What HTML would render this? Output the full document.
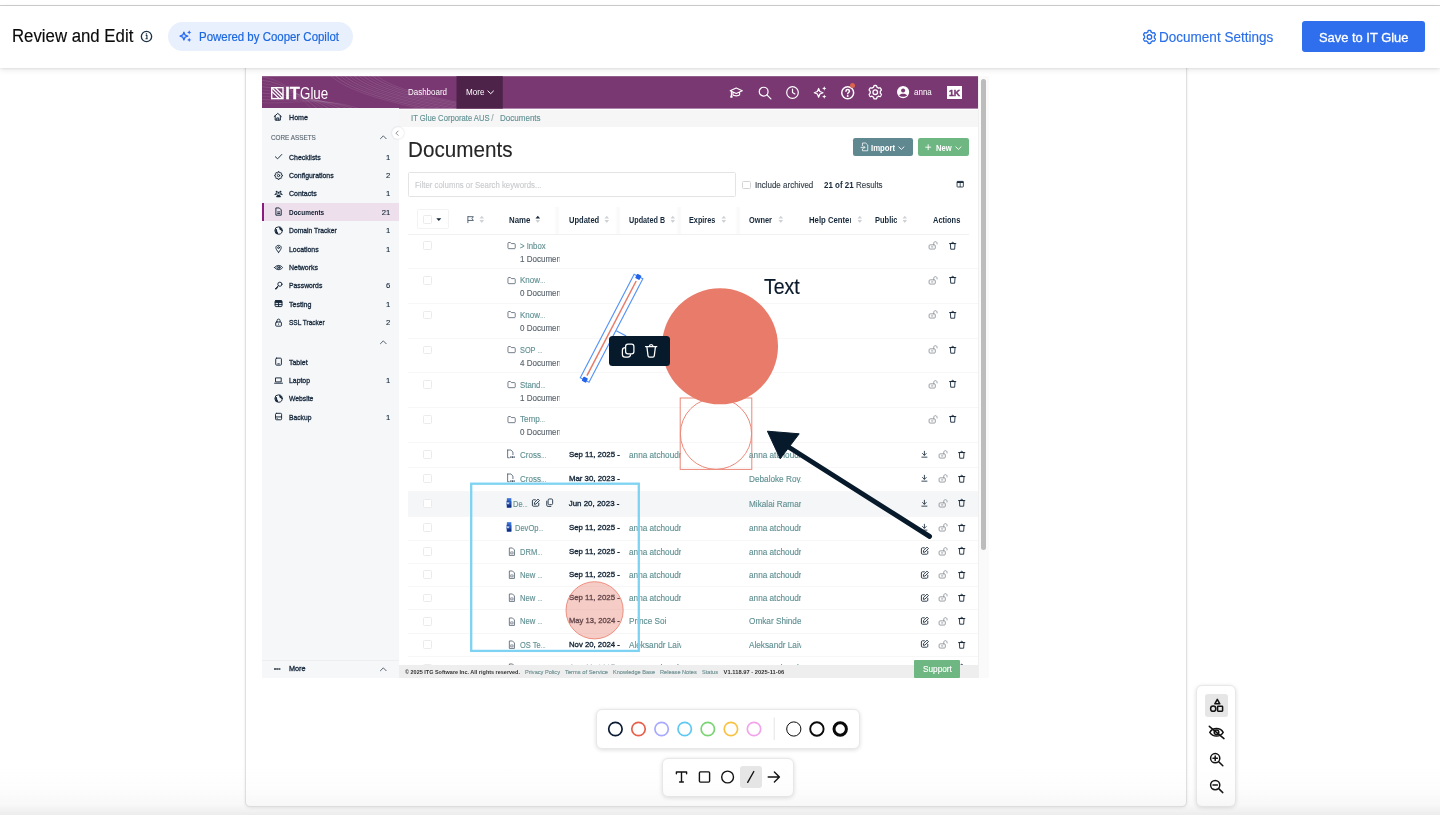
<!DOCTYPE html>
<html lang="en">
<head>
<meta charset="utf-8">
<title>Review and Edit</title>
<style>
*{box-sizing:border-box;margin:0;padding:0}
html,body{width:1440px;height:815px;overflow:hidden;background:#fff}
body{position:relative;font-family:"Liberation Sans",Arial,sans-serif;color:#111}
.abs{position:absolute}
.t{position:absolute;white-space:nowrap;line-height:1}
#hdrc,#shot,#annot{will-change:transform}
svg{position:absolute;overflow:visible}
#topline{left:0;top:5px;width:1440px;height:1px;background:#cdcdcd}
#hdr{left:0;top:6px;width:1440px;height:62px;background:#fff;box-shadow:0 1px 2px rgba(0,0,0,.07),0 2px 6px rgba(0,0,0,.09);z-index:20}
#hdrc{position:absolute;left:0;top:0;z-index:21}
#pill{left:168px;top:22px;width:185px;height:29px;border-radius:15px;background:#e9f0fd}
#savebtn{left:1302px;top:21px;width:123px;height:31px;border-radius:3px;background:#2f6fed}
#panel{left:245px;top:40px;width:942px;height:767px;background:#fff;border:1px solid #e0e0e0;border-radius:0 0 5px 5px;box-shadow:0 1px 3px rgba(0,0,0,.09)}
#botfade{left:0;top:765px;width:1440px;height:50px;background:linear-gradient(to bottom,rgba(200,200,200,0) 0%,rgba(200,200,200,.03) 45%,rgba(200,200,200,.12) 78%,rgba(195,195,195,.30) 100%);z-index:30;pointer-events:none}
#shot{left:262px;top:76px;width:727px;height:602px;overflow:hidden;background:#fff}
#shot .in{position:absolute;left:-262px;top:-76px;width:1440px;height:815px}
.cb{position:absolute;width:8.5px;height:8.5px;border:1px solid #ebebeb;border-radius:1.5px;background:#fff}
.sep{position:absolute;left:408px;width:560px;height:1px;background:#f7f7f7}
.bar{position:absolute;background:#fff;border:1px solid #e8e8e8;border-radius:6px;box-shadow:0 1px 4px rgba(0,0,0,.14)}
</style>
</head>
<body>
<div class="abs" id="panel"></div>
<div class="abs" id="topline"></div>
<div class="abs" id="hdr"></div>
<div id="hdrc">
<div class="t" style="left:11.60px;top:28.08px;font-size:17.6px;color:#0b0b0b;-webkit-text-stroke:0.15px #0b0b0b;transform:scaleX(0.9541);transform-origin:0 50%;">Review and Edit</div>
<svg style="left:140.3px;top:29.55px" width="13" height="13" viewBox="0 0 13 13"><circle cx="6.5" cy="6.5" r="5.15" fill="none" stroke="#1e3246" stroke-width="1.35"/><path d="M5.700 5.500 H6.900 V8.600 M5.500 8.800 H7.700" stroke="#1e3246" stroke-width="1.100" fill="none"/><rect x="5.800" y="3.300" width="1.300" height="1.300" fill="#1e3246"/></svg>
<div class="abs" id="pill"></div>
<svg style="left:178px;top:29px" width="14" height="14" viewBox="0 0 14 14"><path d="M5.900 3.200 L7 5.950 L9.750 7.050 L7 8.150 L5.900 10.900 L4.800 8.150 L2.050 7.050 L4.800 5.950 Z" fill="none" stroke="#2a6bef" stroke-width="1.350" stroke-linejoin="round"/><path d="M11.200 1.200 L11.900 2.700 L13.400 3.400 L11.900 4.100 L11.200 5.600 L10.500 4.100 L9 3.400 L10.500 2.700 Z" fill="#2a6bef"/><path d="M11.200 8.700 L11.900 10.200 L13.400 10.900 L11.900 11.600 L11.200 13.100 L10.500 11.600 L9 10.900 L10.500 10.200 Z" fill="#2a6bef"/></svg>
<div class="t" style="left:199.00px;top:30.62px;font-size:12.2px;color:#1c68e0;-webkit-text-stroke:0.2px #1c68e0;transform:scaleX(0.9393);transform-origin:0 50%;">Powered by Cooper Copilot</div>
<svg style="left:0;top:0" width="1440" height="60" viewBox="0 0 1440 60"><path d="M1149.45 30.42 L1149.72 30.43 L1150.00 30.44 L1150.27 30.47 L1150.54 30.52 L1150.76 30.80 L1150.90 31.32 L1151.00 31.85 L1151.13 32.14 L1151.33 32.22 L1151.53 32.31 L1151.72 32.41 L1151.91 32.52 L1152.09 32.63 L1152.27 32.76 L1152.45 32.89 L1152.61 33.03 L1152.92 33.01 L1153.41 32.83 L1153.92 32.69 L1154.26 32.75 L1154.43 32.97 L1154.59 33.20 L1154.75 33.44 L1154.89 33.68 L1155.02 33.93 L1155.14 34.19 L1155.25 34.45 L1155.35 34.72 L1155.23 35.06 L1154.86 35.44 L1154.47 35.79 L1154.30 36.06 L1154.33 36.28 L1154.35 36.50 L1154.37 36.73 L1154.37 36.95 L1154.37 37.17 L1154.35 37.40 L1154.33 37.62 L1154.30 37.84 L1154.47 38.11 L1154.86 38.46 L1155.23 38.84 L1155.35 39.18 L1155.25 39.45 L1155.14 39.71 L1155.02 39.97 L1154.89 40.22 L1154.75 40.46 L1154.59 40.70 L1154.43 40.93 L1154.26 41.15 L1153.92 41.21 L1153.41 41.07 L1152.92 40.89 L1152.61 40.87 L1152.45 41.01 L1152.27 41.14 L1152.09 41.27 L1151.91 41.38 L1151.72 41.49 L1151.53 41.59 L1151.33 41.68 L1151.13 41.76 L1151.00 42.05 L1150.90 42.58 L1150.76 43.10 L1150.54 43.38 L1150.27 43.43 L1150.00 43.46 L1149.72 43.47 L1149.45 43.48 L1149.18 43.47 L1148.90 43.46 L1148.63 43.43 L1148.36 43.38 L1148.14 43.10 L1148.00 42.58 L1147.90 42.05 L1147.77 41.76 L1147.57 41.68 L1147.37 41.59 L1147.18 41.49 L1146.99 41.38 L1146.81 41.27 L1146.63 41.14 L1146.45 41.01 L1146.29 40.87 L1145.98 40.89 L1145.49 41.07 L1144.98 41.21 L1144.64 41.15 L1144.47 40.93 L1144.31 40.70 L1144.15 40.46 L1144.01 40.22 L1143.88 39.97 L1143.76 39.71 L1143.65 39.45 L1143.55 39.18 L1143.67 38.84 L1144.04 38.46 L1144.43 38.11 L1144.60 37.84 L1144.57 37.62 L1144.55 37.40 L1144.53 37.17 L1144.53 36.95 L1144.53 36.73 L1144.55 36.50 L1144.57 36.28 L1144.60 36.06 L1144.43 35.79 L1144.04 35.44 L1143.67 35.06 L1143.55 34.72 L1143.65 34.45 L1143.76 34.19 L1143.88 33.93 L1144.01 33.68 L1144.15 33.44 L1144.31 33.20 L1144.47 32.97 L1144.64 32.75 L1144.98 32.69 L1145.49 32.83 L1145.98 33.01 L1146.29 33.03 L1146.45 32.89 L1146.63 32.76 L1146.81 32.63 L1146.99 32.52 L1147.18 32.41 L1147.37 32.31 L1147.57 32.22 L1147.77 32.14 L1147.90 31.85 L1148.00 31.32 L1148.14 30.80 L1148.36 30.52 L1148.63 30.47 L1148.90 30.44 L1149.18 30.43Z" fill="none" stroke="#2a6fe8" stroke-width="1.35" stroke-linejoin="round"/><circle cx="1149.45" cy="36.95" r="2.250" fill="none" stroke="#2a6fe8" stroke-width="1.350"/></svg>
<div class="t" style="left:1159.40px;top:30.94px;font-size:13.8px;color:#2a6fe8;-webkit-text-stroke:0.15px #2a6fe8;transform:scaleX(0.9805);transform-origin:0 50%;">Document Settings</div>
<div class="abs" id="savebtn"></div>
<div class="t" style="left:1318.60px;top:30.89px;font-size:13.7px;color:#fff;-webkit-text-stroke:0.3px #fff;transform:scaleX(0.9424);transform-origin:0 50%;">Save to IT Glue</div>
</div>
<div class="abs" id="shot"><div class="in">
<svg style="left:0;top:0" width="1440" height="120" viewBox="0 0 1440 120"><rect x="262" y="76.200" width="716" height="32.400" fill="#793872"/></svg>
<svg style="left:0;top:0" width="1440" height="815"><defs><clipPath id="cpw"><rect x="262" y="76" width="194.500" height="32"/></clipPath></defs><g clip-path="url(#cpw)"><path d="M330.0 75 C 346.0 90, 378.0 99, 422.0 109" fill="none" stroke="#fff" stroke-opacity="0.12" stroke-width="0.8"/><path d="M334.6 75 C 350.6 90, 384.1 99, 429.1 109" fill="none" stroke="#fff" stroke-opacity="0.17" stroke-width="0.8"/><path d="M339.2 75 C 355.2 90, 390.2 99, 436.2 109" fill="none" stroke="#fff" stroke-opacity="0.12" stroke-width="0.8"/><path d="M343.8 75 C 359.8 90, 396.3 99, 443.3 109" fill="none" stroke="#fff" stroke-opacity="0.17" stroke-width="0.8"/><path d="M348.4 75 C 364.4 90, 402.4 99, 450.4 109" fill="none" stroke="#fff" stroke-opacity="0.12" stroke-width="0.8"/><path d="M353.0 75 C 369.0 90, 408.5 99, 457.5 109" fill="none" stroke="#fff" stroke-opacity="0.17" stroke-width="0.8"/><path d="M357.6 75 C 373.6 90, 414.6 99, 464.6 109" fill="none" stroke="#fff" stroke-opacity="0.12" stroke-width="0.8"/><path d="M362.2 75 C 378.2 90, 420.7 99, 471.7 109" fill="none" stroke="#fff" stroke-opacity="0.17" stroke-width="0.8"/><path d="M366.8 75 C 382.8 90, 426.8 99, 478.8 109" fill="none" stroke="#fff" stroke-opacity="0.12" stroke-width="0.8"/><path d="M371.4 75 C 387.4 90, 432.9 99, 485.9 109" fill="none" stroke="#fff" stroke-opacity="0.17" stroke-width="0.8"/><path d="M376.0 75 C 392.0 90, 439.0 99, 493.0 109" fill="none" stroke="#fff" stroke-opacity="0.12" stroke-width="0.8"/><path d="M261 77.0 C 284 79.0, 298.0 96, 312.0 109" fill="none" stroke="#fff" stroke-opacity="0.10" stroke-width="0.8"/><path d="M261 80.2 C 284 82.2, 301.5 96, 318.0 109" fill="none" stroke="#fff" stroke-opacity="0.15" stroke-width="0.8"/><path d="M261 83.4 C 284 85.4, 305.0 96, 324.0 109" fill="none" stroke="#fff" stroke-opacity="0.10" stroke-width="0.8"/><path d="M261 86.6 C 284 88.6, 308.5 96, 330.0 109" fill="none" stroke="#fff" stroke-opacity="0.15" stroke-width="0.8"/><path d="M261 89.8 C 284 91.8, 312.0 96, 336.0 109" fill="none" stroke="#fff" stroke-opacity="0.10" stroke-width="0.8"/><path d="M261 93.0 C 284 95.0, 315.5 96, 342.0 109" fill="none" stroke="#fff" stroke-opacity="0.15" stroke-width="0.8"/><path d="M261 96.2 C 284 98.2, 319.0 96, 348.0 109" fill="none" stroke="#fff" stroke-opacity="0.10" stroke-width="0.8"/><path d="M261 99.4 C 284 101.4, 322.5 96, 354.0 109" fill="none" stroke="#fff" stroke-opacity="0.15" stroke-width="0.8"/><path d="M261 102.6 C 284 104.6, 326.0 96, 360.0 109" fill="none" stroke="#fff" stroke-opacity="0.10" stroke-width="0.8"/></g></svg>
<svg style="left:0;top:0" width="1440" height="120" viewBox="0 0 1440 120"><rect x="456.500" y="76.200" width="46.300" height="32.400" fill="#4e2349"/></svg>
<svg style="left:270.5px;top:86.5px" width="13" height="12.5" viewBox="0 0 13 12.5"><rect x="0.7" y="0.7" width="11.3" height="10.9" fill="none" stroke="#fff" stroke-width="1.4"/><path d="M1 1 L11.6 11.4 M4.6 1 L12 8.2 M1 4.6 L8 11.4" stroke="#fff" stroke-width="1.3" fill="none"/></svg>
<div class="t" style="left:285.20px;top:84.86px;font-size:16.4px;color:#fff;font-weight:700;letter-spacing:0.011px;-webkit-text-stroke:0.35px #fff;">IT</div>
<div class="t" style="left:300.20px;top:84.86px;font-size:16.4px;color:#fff;transform:scaleX(0.8147);transform-origin:0 50%;">Glue</div>
<div class="t" style="left:408.30px;top:88.33px;font-size:8.51px;color:#fff;transform:scaleX(0.9376);transform-origin:0 50%;">Dashboard</div>
<div class="t" style="left:465.60px;top:88.33px;font-size:8.51px;color:#fff;transform:scaleX(0.9497);transform-origin:0 50%;">More</div>
<svg style="left:487.3px;top:90.2px" width="7.4" height="4.6" viewBox="0 0 7.4 4.6"><path d="M0.6 0.7 L3.7 3.7 L6.8 0.7" fill="none" stroke="#fff" stroke-width="1"/></svg>
<svg style="left:729.05px;top:85.05px" width="14.50" height="14.50" viewBox="0 0 24 24" ><path d="M2 9.500 L12 5 L22 9.500 L12 14 Z M6.500 11.800 V16.500 C8 18.500 16 18.500 17.500 16.500 V11.800 M4 10.600 V17 M4 17 l-1.200 3 h2.400z" stroke="#fff" fill="none" stroke-width="1.9" stroke-linecap="round" stroke-linejoin="round"/></svg>
<svg style="left:757.45px;top:84.85px" width="15.50" height="15.50" viewBox="0 0 24 24" ><circle cx="10.300" cy="10.300" r="6.800" stroke="#fff" fill="none" stroke-width="1.9" stroke-linecap="round" stroke-linejoin="round"/><path d="M15.300 15.300 L21.500 21.500" stroke="#fff" fill="none" stroke-width="1.9" stroke-linecap="round" stroke-linejoin="round"/></svg>
<svg style="left:785.30px;top:84.90px" width="15.00" height="15.00" viewBox="0 0 24 24" ><circle cx="12" cy="12" r="9.300" stroke="#fff" fill="none" stroke-width="1.9" stroke-linecap="round" stroke-linejoin="round"/><path d="M12 6.500 V12 L15.800 14.300" stroke="#fff" fill="none" stroke-width="1.9" stroke-linecap="round" stroke-linejoin="round"/></svg>
<svg style="left:813.20px;top:84.80px" width="15.00" height="15.00" viewBox="0 0 24 24" ><path d="M9 5.500 L11 10.500 L16 12.500 L11 14.500 L9 19.500 L7 14.500 L2 12.500 L7 10.500 Z" stroke="#fff" fill="none" stroke-width="1.9" stroke-linecap="round" stroke-linejoin="round"/><path d="M18 2 L19 4.500 L21.500 5.500 L19 6.500 L18 9 L17 6.500 L14.500 5.500 L17 4.500 Z M18 15 L19 17.500 L21.500 18.500 L19 19.500 L18 22 L17 19.500 L14.500 18.500 L17 17.500 Z" fill="#fff"/></svg>
<svg style="left:840.10px;top:84.70px" width="15.40" height="15.40" viewBox="0 0 24 24" ><circle cx="12" cy="12" r="9.300" stroke="#fff" fill="none" stroke-width="2.35" stroke-linecap="round" stroke-linejoin="round"/><path d="M9.300 9.600 C9.300 6.300 14.700 6.300 14.700 9.600 C14.700 11.600 12 11.800 12 13.800" stroke="#fff" fill="none" stroke-width="2.35" stroke-linecap="round" stroke-linejoin="round"/><circle cx="12" cy="17.200" r="1.500" fill="#fff"/></svg>
<div class="abs" style="left:850px;top:83px;width:5px;height:5px;border-radius:50%;background:#d9644f"></div>
<svg style="left:0;top:0" width="1440" height="120" viewBox="0 0 1440 120"><path d="M875.25 85.48 L875.53 85.49 L875.82 85.51 L876.10 85.54 L876.38 85.59 L876.61 85.88 L876.75 86.43 L876.85 86.98 L876.99 87.28 L877.19 87.37 L877.40 87.46 L877.60 87.56 L877.79 87.67 L877.98 87.79 L878.16 87.91 L878.34 88.05 L878.52 88.19 L878.84 88.16 L879.35 87.98 L879.88 87.83 L880.24 87.88 L880.42 88.11 L880.59 88.35 L880.75 88.59 L880.90 88.84 L881.03 89.10 L881.16 89.36 L881.27 89.63 L881.38 89.90 L881.24 90.25 L880.85 90.65 L880.44 91.02 L880.25 91.29 L880.29 91.52 L880.31 91.74 L880.33 91.97 L880.33 92.20 L880.33 92.43 L880.31 92.66 L880.29 92.88 L880.25 93.11 L880.44 93.38 L880.85 93.75 L881.24 94.15 L881.38 94.50 L881.27 94.77 L881.16 95.04 L881.03 95.30 L880.90 95.56 L880.75 95.81 L880.59 96.05 L880.42 96.29 L880.24 96.52 L879.88 96.57 L879.35 96.42 L878.84 96.24 L878.52 96.21 L878.34 96.35 L878.16 96.49 L877.98 96.61 L877.79 96.73 L877.60 96.84 L877.40 96.94 L877.19 97.03 L876.99 97.12 L876.85 97.42 L876.75 97.97 L876.61 98.52 L876.38 98.81 L876.10 98.86 L875.82 98.89 L875.53 98.91 L875.25 98.92 L874.97 98.91 L874.68 98.89 L874.40 98.86 L874.12 98.81 L873.89 98.52 L873.75 97.97 L873.65 97.42 L873.51 97.12 L873.31 97.03 L873.10 96.94 L872.90 96.84 L872.71 96.73 L872.52 96.61 L872.34 96.49 L872.16 96.35 L871.98 96.21 L871.66 96.24 L871.15 96.42 L870.62 96.57 L870.26 96.52 L870.08 96.29 L869.91 96.05 L869.75 95.81 L869.60 95.56 L869.47 95.30 L869.34 95.04 L869.23 94.77 L869.12 94.50 L869.26 94.15 L869.65 93.75 L870.06 93.38 L870.25 93.11 L870.21 92.88 L870.19 92.66 L870.17 92.43 L870.17 92.20 L870.17 91.97 L870.19 91.74 L870.21 91.52 L870.25 91.29 L870.06 91.02 L869.65 90.65 L869.26 90.25 L869.12 89.90 L869.23 89.63 L869.34 89.36 L869.47 89.10 L869.60 88.84 L869.75 88.59 L869.91 88.35 L870.08 88.11 L870.26 87.88 L870.62 87.83 L871.15 87.98 L871.66 88.16 L871.98 88.19 L872.16 88.05 L872.34 87.91 L872.52 87.79 L872.71 87.67 L872.90 87.56 L873.10 87.46 L873.31 87.37 L873.51 87.28 L873.65 86.98 L873.75 86.43 L873.89 85.88 L874.12 85.59 L874.40 85.54 L874.68 85.51 L874.97 85.49Z" fill="none" stroke="#fff" stroke-width="1.300" stroke-linejoin="round"/><circle cx="875.250" cy="92.200" r="2.300" fill="none" stroke="#fff" stroke-width="1.300"/></svg>
<svg style="left:896.80px;top:86.20px" width="12.20" height="12.20" viewBox="0 0 24 24" ><circle cx="12" cy="12" r="12" fill="#fff"/><circle cx="12" cy="8.800" r="4" fill="#7a3872"/><path d="M4.200 18.600 C6 14 18 14 19.800 18.600 C16 22 8 22 4.200 18.600Z" fill="#7a3872"/></svg>
<div class="t" style="left:914.00px;top:88.99px;font-size:8.19px;color:#fff;transform:scaleX(0.9787);transform-origin:0 50%;">anna</div>
<div class="abs" style="left:947.3px;top:85.7px;width:14.6px;height:13.4px;background:#fff"></div>
<div class="t" style="left:949.20px;top:87.67px;font-size:9.45px;color:#7a3872;font-weight:700;-webkit-text-stroke:0.4px #7a3872;transform:scaleX(0.9273);transform-origin:0 50%;">1K</div>
<div class="abs" style="left:262px;top:108px;width:137.3px;height:570px;background:#f5f7f9"></div>
<div class="abs" style="left:262px;top:203.3px;width:137.3px;height:18.2px;background:#ede0ec"></div>
<div class="abs" style="left:262px;top:203.3px;width:2.2px;height:18.2px;background:#8a1c80"></div>
<svg style="left:273.43px;top:112.03px" width="9.54" height="9.54" viewBox="0 0 24 24" ><path d="M3 11.500 L12 3.500 L21 11.500 M5.500 10 V20.500 H18.500 V10 M9.500 20.500 V15 H14.500 V20.500" stroke="#16283a" fill="none" stroke-width="2.5" stroke-linecap="round" stroke-linejoin="round"/></svg>
<div class="t" style="left:289.20px;top:113.54px;font-size:7.67px;color:#14263a;-webkit-text-stroke:0.32px #14263a;transform:scaleX(0.9297);transform-origin:0 50%;">Home</div>
<div class="t" style="left:270.80px;top:134.24px;font-size:7.46px;color:#5d6873;-webkit-text-stroke:0.15px #5d6873;transform:scaleX(0.8516);transform-origin:0 50%;">CORE ASSETS</div>
<svg style="left:378.90px;top:133.20px" width="8.60" height="8.60" viewBox="0 0 24 24" ><path d="M4 16 L12 8 L20 16" stroke="#46525e" fill="none" stroke-width="2.5" stroke-linecap="round" stroke-linejoin="round"/></svg>
<svg style="left:273.64px;top:152.24px" width="9.12" height="9.12" viewBox="0 0 24 24" ><path d="M3.500 12.500 L9.500 18 L20.500 6.500" stroke="#16283a" fill="none" stroke-width="2.5" stroke-linecap="round" stroke-linejoin="round"/></svg>
<div class="t" style="left:289.20px;top:153.54px;font-size:7.67px;color:#14263a;-webkit-text-stroke:0.32px #14263a;transform:scaleX(0.9114);transform-origin:0 50%;">Checklists</div>
<div class="t" style="left:385.93px;top:153.54px;font-size:7.67px;color:#14263a;-webkit-text-stroke:0.12px #14263a;">1</div>
<svg style="left:273.64px;top:170.64px" width="9.12" height="9.12" viewBox="0 0 24 24" ><path d="M10.24 3.99 L10.59 1.80 L13.41 1.80 L13.76 3.99 L16.42 5.09 L18.22 3.79 L20.21 5.78 L18.91 7.58 L20.01 10.24 L22.20 10.59 L22.20 13.41 L20.01 13.76 L18.91 16.42 L20.21 18.22 L18.22 20.21 L16.42 18.91 L13.76 20.01 L13.41 22.20 L10.59 22.20 L10.24 20.01 L7.58 18.91 L5.78 20.21 L3.79 18.22 L5.09 16.42 L3.99 13.76 L1.80 13.41 L1.80 10.59 L3.99 10.24 L5.09 7.58 L3.79 5.78 L5.78 3.79 L7.58 5.09Z" stroke="#16283a" fill="none" stroke-width="2.5" stroke-linecap="round" stroke-linejoin="round"/><circle cx="12" cy="12" r="3" stroke="#16283a" fill="none" stroke-width="2.5" stroke-linecap="round" stroke-linejoin="round"/></svg>
<div class="t" style="left:289.20px;top:171.94px;font-size:7.67px;color:#14263a;-webkit-text-stroke:0.32px #14263a;transform:scaleX(0.9033);transform-origin:0 50%;">Configurations</div>
<div class="t" style="left:385.93px;top:171.94px;font-size:7.67px;color:#14263a;-webkit-text-stroke:0.12px #14263a;">2</div>
<svg style="left:273.64px;top:189.04px" width="9.12" height="9.12" viewBox="0 0 24 24" ><circle cx="7" cy="7" r="2.600" fill="#16283a"/><circle cx="17" cy="7" r="2.600" fill="#16283a"/><circle cx="12" cy="10" r="2.800" fill="#16283a"/><path d="M2 16 C2 11 9 11 9.500 14 M22 16 C22 11 15 11 14.500 14 M6.500 21 C6.500 14.500 17.500 14.500 17.500 21 Z" fill="#16283a" stroke="#16283a" stroke-width="1.500"/></svg>
<div class="t" style="left:289.20px;top:190.34px;font-size:7.67px;color:#14263a;-webkit-text-stroke:0.32px #14263a;transform:scaleX(0.9166);transform-origin:0 50%;">Contacts</div>
<div class="t" style="left:385.93px;top:190.34px;font-size:7.67px;color:#14263a;-webkit-text-stroke:0.12px #14263a;">1</div>
<svg style="left:273.64px;top:207.44px" width="9.12" height="9.12" viewBox="0 0 24 24" ><path d="M6 2.500 H14 L19 7.500 V21.500 H6 Z M9.500 13 H15 M9.500 17 H15" stroke="#16283a" fill="none" stroke-width="2.5" stroke-linecap="round" stroke-linejoin="round"/></svg>
<div class="t" style="left:289.20px;top:208.74px;font-size:7.67px;color:#0c1b2c;font-weight:700;transform:scaleX(0.8441);transform-origin:0 50%;">Documents</div>
<div class="t" style="left:381.67px;top:208.74px;font-size:7.67px;color:#14263a;-webkit-text-stroke:0.12px #14263a;">21</div>
<svg style="left:273.64px;top:225.84px" width="9.12" height="9.12" viewBox="0 0 24 24" ><circle cx="12" cy="12" r="9.800" stroke="#16283a" fill="none" stroke-width="2.5" stroke-linecap="round" stroke-linejoin="round"/><path d="M4 7 C8 7.500 9 10 8 12.500 C7.500 15 10.500 15 10.500 18 L11.500 21.500 C5 21 1.500 14 4 7 Z M12.500 2.500 C12 5 15 5.500 14.500 8 C14 10.500 17 10 18.500 12 C20 13.500 21 12 21.500 11 C21 6 17 2.500 12.500 2.500 Z" fill="#16283a"/></svg>
<div class="t" style="left:289.20px;top:227.14px;font-size:7.67px;color:#14263a;-webkit-text-stroke:0.32px #14263a;transform:scaleX(0.8826);transform-origin:0 50%;">Domain Tracker</div>
<div class="t" style="left:385.93px;top:227.14px;font-size:7.67px;color:#14263a;-webkit-text-stroke:0.12px #14263a;">1</div>
<svg style="left:273.64px;top:244.24px" width="9.12" height="9.12" viewBox="0 0 24 24" ><path d="M12 22 C7 16 5 13 5 9.500 C5 1.500 19 1.500 19 9.500 C19 13 17 16 12 22 Z" stroke="#16283a" fill="none" stroke-width="2.5" stroke-linecap="round" stroke-linejoin="round"/><circle cx="12" cy="9.500" r="2.500" stroke="#16283a" fill="none" stroke-width="2.5" stroke-linecap="round" stroke-linejoin="round"/></svg>
<div class="t" style="left:289.20px;top:245.54px;font-size:7.67px;color:#14263a;-webkit-text-stroke:0.32px #14263a;transform:scaleX(0.9030);transform-origin:0 50%;">Locations</div>
<div class="t" style="left:385.93px;top:245.54px;font-size:7.67px;color:#14263a;-webkit-text-stroke:0.12px #14263a;">1</div>
<svg style="left:273.64px;top:262.64px" width="9.12" height="9.12" viewBox="0 0 24 24" ><path d="M1.500 12 C6 4.500 18 4.500 22.500 12 C18 19.500 6 19.500 1.500 12 Z" stroke="#16283a" fill="none" stroke-width="2.5" stroke-linecap="round" stroke-linejoin="round"/><circle cx="12" cy="12" r="4" stroke="#16283a" fill="none" stroke-width="2.5" stroke-linecap="round" stroke-linejoin="round"/><circle cx="12" cy="12" r="1.600" fill="#16283a"/></svg>
<div class="t" style="left:289.20px;top:263.94px;font-size:7.67px;color:#14263a;-webkit-text-stroke:0.32px #14263a;transform:scaleX(0.9085);transform-origin:0 50%;">Networks</div>
<svg style="left:273.64px;top:281.04px" width="9.12" height="9.12" viewBox="0 0 24 24" ><circle cx="15.500" cy="8.500" r="5.500" stroke="#16283a" fill="none" stroke-width="2.5" stroke-linecap="round" stroke-linejoin="round"/><path d="M11.500 12.500 L3 21 H6.500 V18 H9.500 V15.200" stroke="#16283a" fill="none" stroke-width="2.5" stroke-linecap="round" stroke-linejoin="round"/></svg>
<div class="t" style="left:289.20px;top:282.34px;font-size:7.67px;color:#14263a;-webkit-text-stroke:0.32px #14263a;transform:scaleX(0.8891);transform-origin:0 50%;">Passwords</div>
<div class="t" style="left:385.93px;top:282.34px;font-size:7.67px;color:#14263a;-webkit-text-stroke:0.12px #14263a;">6</div>
<svg style="left:273.64px;top:299.44px" width="9.12" height="9.12" viewBox="0 0 24 24" ><rect x="3" y="4" width="18" height="16" rx="2" stroke="#16283a" fill="none" stroke-width="2.5" stroke-linecap="round" stroke-linejoin="round"/><path d="M3 9.500 H21 M3 14.700 H21 M12 9.500 V20" stroke="#16283a" fill="none" stroke-width="2.5" stroke-linecap="round" stroke-linejoin="round"/><rect x="3" y="4" width="18" height="5" fill="#16283a"/></svg>
<div class="t" style="left:289.20px;top:300.74px;font-size:7.67px;color:#14263a;-webkit-text-stroke:0.32px #14263a;transform:scaleX(0.9272);transform-origin:0 50%;">Testing</div>
<div class="t" style="left:385.93px;top:300.74px;font-size:7.67px;color:#14263a;-webkit-text-stroke:0.12px #14263a;">1</div>
<svg style="left:273.64px;top:317.84px" width="9.12" height="9.12" viewBox="0 0 24 24" ><rect x="4.500" y="10.500" width="15" height="11" rx="2" stroke="#16283a" fill="none" stroke-width="2.5" stroke-linecap="round" stroke-linejoin="round"/><path d="M8 10.500 V7 C8 1.500 16 1.500 16 7 V10.500" stroke="#16283a" fill="none" stroke-width="2.5" stroke-linecap="round" stroke-linejoin="round"/><circle cx="12" cy="16" r="1.500" fill="#16283a"/></svg>
<div class="t" style="left:289.20px;top:319.14px;font-size:7.67px;color:#14263a;-webkit-text-stroke:0.32px #14263a;transform:scaleX(0.8508);transform-origin:0 50%;">SSL Tracker</div>
<div class="t" style="left:385.93px;top:319.14px;font-size:7.67px;color:#14263a;-webkit-text-stroke:0.12px #14263a;">2</div>
<svg style="left:378.90px;top:338.10px" width="8.60" height="8.60" viewBox="0 0 24 24" ><path d="M4 16 L12 8 L20 16" stroke="#46525e" fill="none" stroke-width="2.5" stroke-linecap="round" stroke-linejoin="round"/></svg>
<svg style="left:273.64px;top:357.24px" width="9.12" height="9.12" viewBox="0 0 24 24" ><rect x="4.500" y="3" width="15" height="18.500" rx="2.500" stroke="#16283a" fill="none" stroke-width="2.5" stroke-linecap="round" stroke-linejoin="round" stroke-width="2.800"/><path d="M10 18 H14" stroke="#16283a" fill="none" stroke-width="2.5" stroke-linecap="round" stroke-linejoin="round"/></svg>
<div class="t" style="left:289.20px;top:358.54px;font-size:7.67px;color:#14263a;-webkit-text-stroke:0.32px #14263a;transform:scaleX(0.9101);transform-origin:0 50%;">Tablet</div>
<svg style="left:273.64px;top:375.64px" width="9.12" height="9.12" viewBox="0 0 24 24" ><path d="M5 5 H19 V15.500 H5 Z M1.500 19 H22.500" stroke="#16283a" fill="none" stroke-width="2.5" stroke-linecap="round" stroke-linejoin="round"/></svg>
<div class="t" style="left:289.20px;top:376.94px;font-size:7.67px;color:#14263a;-webkit-text-stroke:0.32px #14263a;transform:scaleX(0.8966);transform-origin:0 50%;">Laptop</div>
<div class="t" style="left:385.93px;top:376.94px;font-size:7.67px;color:#14263a;-webkit-text-stroke:0.12px #14263a;">1</div>
<svg style="left:273.64px;top:394.04px" width="9.12" height="9.12" viewBox="0 0 24 24" ><circle cx="12" cy="12" r="9.800" stroke="#16283a" fill="none" stroke-width="2.5" stroke-linecap="round" stroke-linejoin="round"/><path d="M4 7 C8 7.500 9 10 8 12.500 C7.500 15 10.500 15 10.500 18 L11.500 21.500 C5 21 1.500 14 4 7 Z M12.500 2.500 C12 5 15 5.500 14.500 8 C14 10.500 17 10 18.500 12 C20 13.500 21 12 21.500 11 C21 6 17 2.500 12.500 2.500 Z" fill="#16283a"/></svg>
<div class="t" style="left:289.20px;top:395.34px;font-size:7.67px;color:#14263a;-webkit-text-stroke:0.32px #14263a;transform:scaleX(0.8826);transform-origin:0 50%;">Website</div>
<svg style="left:273.64px;top:412.44px" width="9.12" height="9.12" viewBox="0 0 24 24" ><rect x="4" y="3.500" width="16" height="17" rx="2.500" stroke="#16283a" fill="none" stroke-width="2.5" stroke-linecap="round" stroke-linejoin="round"/><path d="M4 13 H20 M8 17 H8.500" stroke="#16283a" fill="none" stroke-width="2.5" stroke-linecap="round" stroke-linejoin="round"/></svg>
<div class="t" style="left:289.20px;top:413.74px;font-size:7.67px;color:#14263a;-webkit-text-stroke:0.32px #14263a;transform:scaleX(0.8768);transform-origin:0 50%;">Backup</div>
<div class="t" style="left:385.93px;top:413.74px;font-size:7.67px;color:#14263a;-webkit-text-stroke:0.12px #14263a;">1</div>
<div class="abs" style="left:262px;top:659.5px;width:137.3px;height:1px;background:#eceef0"></div>
<div class="abs" style="left:274.3px;top:668.4px;width:1.4px;height:1.4px;background:#5d6873;box-shadow:2.2px 0 0 #5d6873,4.4px 0 0 #5d6873"></div>
<div class="t" style="left:289.20px;top:665.14px;font-size:7.67px;color:#14263a;-webkit-text-stroke:0.32px #14263a;transform:scaleX(0.9511);transform-origin:0 50%;">More</div>
<svg style="left:379.10px;top:664.50px" width="8.60" height="8.60" viewBox="0 0 24 24" ><path d="M4 16 L12 8 L20 16" stroke="#46525e" fill="none" stroke-width="2.5" stroke-linecap="round" stroke-linejoin="round"/></svg>
<div class="abs" style="left:399.3px;top:109.6px;width:578.7px;height:17px;background:#f6f6f6"></div>
<div class="abs" style="left:392px;top:127.3px;width:12px;height:12px;border-radius:50%;background:#fff;box-shadow:0 0 2px rgba(0,0,0,.18)"></div>
<svg style="left:394.40px;top:130.10px" width="6.40" height="6.40" viewBox="0 0 24 24" ><path d="M15.500 4 L7.500 12 L15.500 20" stroke="#5d6873" fill="none" stroke-width="2.800" stroke-linecap="round" stroke-linejoin="round"/></svg>
<div class="t" style="left:410.60px;top:113.93px;font-size:8.51px;color:#5f8f92;-webkit-text-stroke:0.13px #5f8f92;transform:scaleX(0.9009);transform-origin:0 50%;">IT Glue Corporate AUS</div>
<div class="t" style="left:491.20px;top:113.93px;font-size:8.51px;color:#9aa5a8;-webkit-text-stroke:0.13px #9aa5a8;">/</div>
<div class="t" style="left:499.80px;top:113.93px;font-size:8.51px;color:#5f8f92;-webkit-text-stroke:0.13px #5f8f92;transform:scaleX(0.9442);transform-origin:0 50%;">Documents</div>
<div class="t" style="left:407.60px;top:139.02px;font-size:21.6px;color:#262626;-webkit-text-stroke:.35px #fff;-webkit-text-stroke:0.13px #262626;transform:scaleX(0.9568);transform-origin:0 50%;">Documents</div>
<div class="abs" style="left:853.3px;top:138px;width:59.5px;height:18.4px;border-radius:2.2px;background:#5f8890"></div>
<svg style="left:859.70px;top:142.10px" width="9.80" height="9.80" viewBox="0 0 24 24" ><path d="M6 9 V2.500 H14 L19 7.500 V21.500 H6 V17 M2.500 13.200 H11.500 M9 10.200 L12 13.200 L9 16.200" stroke="#fff" fill="none" stroke-width="1.900" stroke-linejoin="round" stroke-linecap="round"/></svg>
<div class="t" style="left:870.60px;top:143.63px;font-size:8.51px;color:#fff;font-weight:700;transform:scaleX(0.9148);transform-origin:0 50%;">Import</div>
<svg style="left:898.3px;top:145.5px" width="6.8" height="4.2" viewBox="0 0 6.8 4.2"><path d="M0.5 0.6 L3.4 3.4 L6.300 0.6" fill="none" stroke="#fff" stroke-width=".9"/></svg>
<div class="abs" style="left:918.3px;top:138px;width:50.7px;height:18.4px;border-radius:2.2px;background:#6fb782"></div>
<svg style="left:925.4px;top:144.3px" width="6.4" height="6.4" viewBox="0 0 6.4 6.4"><path d="M3.2 0.300 V6.100 M0.300 3.200 H6.100" stroke="#fff" stroke-width=".9"/></svg>
<div class="t" style="left:935.60px;top:143.63px;font-size:8.51px;color:#fff;font-weight:700;transform:scaleX(0.8922);transform-origin:0 50%;">New</div>
<svg style="left:954.8px;top:145.5px" width="6.8" height="4.2" viewBox="0 0 6.8 4.2"><path d="M0.5 0.6 L3.4 3.4 L6.300 0.6" fill="none" stroke="#fff" stroke-width=".9"/></svg>
<div class="abs" style="left:408px;top:172.2px;width:327.8px;height:25.2px;border:1px solid #e4e4e4;border-radius:1.5px;background:#fff"></div>
<div class="t" style="left:415.00px;top:181.03px;font-size:8.51px;color:#c9cbcd;-webkit-text-stroke:0.13px #c9cbcd;transform:scaleX(0.9202);transform-origin:0 50%;">Filter columns or Search keywords...</div>
<div class="cb" style="left:742.2px;top:180.5px;border-color:#d4d4d4"></div>
<div class="t" style="left:755.00px;top:181.03px;font-size:8.51px;color:#333d47;-webkit-text-stroke:0.13px #333d47;transform:scaleX(0.9417);transform-origin:0 50%;">Include archived</div>
<div class="t" style="left:824.40px;top:180.93px;font-size:8.51px;color:#16283a;font-weight:700;transform:scaleX(0.9350);transform-origin:0 50%;">21 of 21</div>
<div class="t" style="left:856.40px;top:180.93px;font-size:8.51px;color:#333d47;-webkit-text-stroke:0.13px #333d47;transform:scaleX(0.9385);transform-origin:0 50%;">Results</div>
<svg style="left:955.60px;top:180.10px" width="8.40" height="8.40" viewBox="0 0 24 24" ><rect x="3" y="4" width="18" height="16" rx="1.500" stroke="#16283a" fill="none" stroke-width="2.400"/><rect x="3" y="4" width="18" height="4.500" fill="#16283a"/><path d="M12 8 V20" stroke="#16283a" stroke-width="2.200"/></svg>
<div class="abs" style="left:417.2px;top:209.1px;width:31.6px;height:20.4px;border:1px solid #f3f3f3;border-radius:1.5px;background:#fff"></div>
<div class="cb" style="left:423px;top:215px"></div>
<svg style="left:435.6px;top:217.8px" width="5.6" height="3.4" viewBox="0 0 5.6 3.4"><path d="M0.300 0.300 H5.300 L2.800 3.100 Z" fill="#16283a"/></svg>
<svg style="left:466.30px;top:215.10px" width="9.00" height="9.00" viewBox="0 0 24 24" ><path d="M5 3 V21.500 M5 4.500 H19.500 L16 9.500 L19.500 14.500 H5" stroke="#34495c" fill="none" stroke-width="2.200" stroke-linejoin="round"/></svg>
<svg style="left:479.20px;top:214.90px" width="5.6" height="8.6" viewBox="0 0 5.6 8.6"><path d="M0.500 3.500 L2.800 0.700 L5.100 3.500 Z" fill="#cfd2d5"/><path d="M0.500 5.100 L2.800 7.900 L5.100 5.100 Z" fill="#cfd2d5"/></svg>
<div class="t" style="left:508.60px;top:216.13px;font-size:8.51px;color:#16283a;font-weight:700;transform:scaleX(0.9242);transform-origin:0 50%;">Name</div>
<svg style="left:535.20px;top:214.90px" width="5.6" height="8.6" viewBox="0 0 5.6 8.6"><path d="M0.500 3.500 L2.800 0.700 L5.100 3.500 Z" fill="#16283a"/><path d="M0.500 5.100 L2.800 7.900 L5.100 5.100 Z" fill="#cfd2d5"/></svg>
<div class="t" style="left:568.80px;top:216.13px;font-size:8.51px;color:#16283a;font-weight:700;transform:scaleX(0.8882);transform-origin:0 50%;">Updated</div>
<svg style="left:604.20px;top:214.90px" width="5.6" height="8.6" viewBox="0 0 5.6 8.6"><path d="M0.500 3.500 L2.800 0.700 L5.100 3.500 Z" fill="#cfd2d5"/><path d="M0.500 5.100 L2.800 7.900 L5.100 5.100 Z" fill="#cfd2d5"/></svg>
<div class="t" style="left:628.90px;top:216.13px;font-size:8.51px;color:#16283a;font-weight:700;width:42.03px;overflow:hidden;transform:scaleX(0.8518);transform-origin:0 50%;">Updated B</div>
<svg style="left:670.20px;top:214.90px" width="5.6" height="8.6" viewBox="0 0 5.6 8.6"><path d="M0.500 3.500 L2.800 0.700 L5.100 3.500 Z" fill="#cfd2d5"/><path d="M0.500 5.100 L2.800 7.900 L5.100 5.100 Z" fill="#cfd2d5"/></svg>
<div class="t" style="left:688.90px;top:216.13px;font-size:8.51px;color:#16283a;font-weight:700;transform:scaleX(0.8562);transform-origin:0 50%;">Expires</div>
<svg style="left:721.00px;top:214.90px" width="5.6" height="8.6" viewBox="0 0 5.6 8.6"><path d="M0.500 3.500 L2.800 0.700 L5.100 3.500 Z" fill="#cfd2d5"/><path d="M0.500 5.100 L2.800 7.900 L5.100 5.100 Z" fill="#cfd2d5"/></svg>
<div class="t" style="left:749.00px;top:216.13px;font-size:8.51px;color:#16283a;font-weight:700;transform:scaleX(0.8695);transform-origin:0 50%;">Owner</div>
<svg style="left:777.80px;top:214.90px" width="5.6" height="8.6" viewBox="0 0 5.6 8.6"><path d="M0.500 3.500 L2.800 0.700 L5.100 3.500 Z" fill="#cfd2d5"/><path d="M0.500 5.100 L2.800 7.900 L5.100 5.100 Z" fill="#cfd2d5"/></svg>
<div class="t" style="left:809.20px;top:216.13px;font-size:8.51px;color:#16283a;font-weight:700;width:46.07px;overflow:hidden;transform:scaleX(0.9095);transform-origin:0 50%;">Help Center</div>
<svg style="left:856.50px;top:214.90px" width="5.6" height="8.6" viewBox="0 0 5.6 8.6"><path d="M0.500 3.500 L2.800 0.700 L5.100 3.500 Z" fill="#cfd2d5"/><path d="M0.500 5.100 L2.800 7.900 L5.100 5.100 Z" fill="#cfd2d5"/></svg>
<div class="t" style="left:875.20px;top:216.13px;font-size:8.51px;color:#16283a;font-weight:700;width:24.72px;overflow:hidden;transform:scaleX(0.8818);transform-origin:0 50%;">Public</div>
<svg style="left:902.40px;top:214.90px" width="5.6" height="8.6" viewBox="0 0 5.6 8.6"><path d="M0.500 3.500 L2.800 0.700 L5.100 3.500 Z" fill="#cfd2d5"/><path d="M0.500 5.100 L2.800 7.900 L5.100 5.100 Z" fill="#cfd2d5"/></svg>
<div class="t" style="left:932.60px;top:216.13px;font-size:8.51px;color:#16283a;font-weight:700;transform:scaleX(0.8758);transform-origin:0 50%;">Actions</div>
<div class="abs" style="left:553.8px;top:207px;width:6px;height:27px;background:linear-gradient(to right,rgba(0,0,0,0),rgba(0,0,0,.028) 55%,rgba(0,0,0,0))"></div>
<div class="abs" style="left:614.9px;top:207px;width:6px;height:27px;background:linear-gradient(to right,rgba(0,0,0,0),rgba(0,0,0,.028) 55%,rgba(0,0,0,0))"></div>
<div class="abs" style="left:675.5px;top:207px;width:6px;height:27px;background:linear-gradient(to right,rgba(0,0,0,0),rgba(0,0,0,.028) 55%,rgba(0,0,0,0))"></div>
<div class="abs" style="left:735.3px;top:207px;width:6px;height:27px;background:linear-gradient(to right,rgba(0,0,0,0),rgba(0,0,0,.028) 55%,rgba(0,0,0,0))"></div>
<div class="sep" style="top:233.9px;width:561px;background:#f1f1f1"></div>
<div class="cb" style="left:423px;top:241.40px"></div>
<svg style="left:507.30px;top:240.90px" width="9.20" height="9.20" viewBox="0 0 24 24" ><path d="M2.500 6 C2.500 4.800 3.300 4 4.500 4 H9 L11.500 6.800 H19.500 C20.700 6.800 21.500 7.600 21.500 8.800 V18 C21.500 19.200 20.700 20 19.500 20 H4.500 C3.300 20 2.500 19.200 2.500 18 Z" stroke="#4a5868" fill="none" stroke-width="2" stroke-linejoin="round"/></svg>
<div class="t" style="left:520.00px;top:241.73px;font-size:8.51px;color:#5f8f92;-webkit-text-stroke:0.13px #5f8f92;transform:scaleX(0.9102);transform-origin:0 50%;">&gt; Inbox</div>
<div class="t" style="left:520.00px;top:254.73px;font-size:8.51px;color:#59636d;width:41.98px;overflow:hidden;-webkit-text-stroke:0.13px #59636d;transform:scaleX(0.9432);transform-origin:0 50%;">1 Documen</div>
<svg style="left:928.40px;top:239.90px" width="10.60" height="10.60" viewBox="0 0 24 24" ><rect x="2.500" y="11" width="14" height="9.500" rx="2.200" stroke="#8d9299" fill="none" stroke-width="2"/><path d="M13 11 V7.500 C13 2.500 20.500 2.500 20.500 7.500 V9" stroke="#8d9299" fill="none" stroke-width="2" stroke-linecap="round"/><path d="M8 15.700 H11" stroke="#8d9299" stroke-width="2" stroke-linecap="round"/></svg>
<svg style="left:947.60px;top:240.60px" width="9.40" height="9.40" viewBox="0 0 24 24" ><path d="M6 6.500 L7 21 H17 L18 6.500 Z" stroke="#16283a" fill="none" stroke-width="2.300" stroke-linejoin="round"/><path d="M4 6.500 H20 M9 6 C9 2 15 2 15 6" stroke="#16283a" fill="none" stroke-width="2.300" stroke-linecap="round"/></svg>
<div class="sep" style="top:268.22px;width:570px"></div>
<div class="cb" style="left:423px;top:276.12px"></div>
<svg style="left:507.30px;top:275.62px" width="9.20" height="9.20" viewBox="0 0 24 24" ><path d="M2.500 6 C2.500 4.800 3.300 4 4.500 4 H9 L11.500 6.800 H19.500 C20.700 6.800 21.500 7.600 21.500 8.800 V18 C21.500 19.200 20.700 20 19.500 20 H4.500 C3.300 20 2.500 19.200 2.500 18 Z" stroke="#4a5868" fill="none" stroke-width="2" stroke-linejoin="round"/></svg>
<div class="t" style="left:520.00px;top:276.45px;font-size:8.51px;color:#5f8f92;-webkit-text-stroke:0.13px #5f8f92;transform:scaleX(0.9377);transform-origin:0 50%;">Know<span style="font-size:.66em;letter-spacing:0">…</span></div>
<div class="t" style="left:520.00px;top:289.45px;font-size:8.51px;color:#59636d;width:41.98px;overflow:hidden;-webkit-text-stroke:0.13px #59636d;transform:scaleX(0.9432);transform-origin:0 50%;">0 Documen</div>
<svg style="left:928.40px;top:274.62px" width="10.60" height="10.60" viewBox="0 0 24 24" ><rect x="2.500" y="11" width="14" height="9.500" rx="2.200" stroke="#8d9299" fill="none" stroke-width="2"/><path d="M13 11 V7.500 C13 2.500 20.500 2.500 20.500 7.500 V9" stroke="#8d9299" fill="none" stroke-width="2" stroke-linecap="round"/><path d="M8 15.700 H11" stroke="#8d9299" stroke-width="2" stroke-linecap="round"/></svg>
<svg style="left:947.60px;top:275.32px" width="9.40" height="9.40" viewBox="0 0 24 24" ><path d="M6 6.500 L7 21 H17 L18 6.500 Z" stroke="#16283a" fill="none" stroke-width="2.300" stroke-linejoin="round"/><path d="M4 6.500 H20 M9 6 C9 2 15 2 15 6" stroke="#16283a" fill="none" stroke-width="2.300" stroke-linecap="round"/></svg>
<div class="sep" style="top:302.94px;width:570px"></div>
<div class="cb" style="left:423px;top:310.84px"></div>
<svg style="left:507.30px;top:310.34px" width="9.20" height="9.20" viewBox="0 0 24 24" ><path d="M2.500 6 C2.500 4.800 3.300 4 4.500 4 H9 L11.500 6.800 H19.500 C20.700 6.800 21.500 7.600 21.500 8.800 V18 C21.500 19.200 20.700 20 19.500 20 H4.500 C3.300 20 2.500 19.200 2.500 18 Z" stroke="#4a5868" fill="none" stroke-width="2" stroke-linejoin="round"/></svg>
<div class="t" style="left:520.00px;top:311.17px;font-size:8.51px;color:#5f8f92;-webkit-text-stroke:0.13px #5f8f92;transform:scaleX(0.9377);transform-origin:0 50%;">Know<span style="font-size:.66em;letter-spacing:0">…</span></div>
<div class="t" style="left:520.00px;top:324.17px;font-size:8.51px;color:#59636d;width:41.98px;overflow:hidden;-webkit-text-stroke:0.13px #59636d;transform:scaleX(0.9432);transform-origin:0 50%;">0 Documen</div>
<svg style="left:928.40px;top:309.34px" width="10.60" height="10.60" viewBox="0 0 24 24" ><rect x="2.500" y="11" width="14" height="9.500" rx="2.200" stroke="#8d9299" fill="none" stroke-width="2"/><path d="M13 11 V7.500 C13 2.500 20.500 2.500 20.500 7.500 V9" stroke="#8d9299" fill="none" stroke-width="2" stroke-linecap="round"/><path d="M8 15.700 H11" stroke="#8d9299" stroke-width="2" stroke-linecap="round"/></svg>
<svg style="left:947.60px;top:310.04px" width="9.40" height="9.40" viewBox="0 0 24 24" ><path d="M6 6.500 L7 21 H17 L18 6.500 Z" stroke="#16283a" fill="none" stroke-width="2.300" stroke-linejoin="round"/><path d="M4 6.500 H20 M9 6 C9 2 15 2 15 6" stroke="#16283a" fill="none" stroke-width="2.300" stroke-linecap="round"/></svg>
<div class="sep" style="top:337.66px;width:570px"></div>
<div class="cb" style="left:423px;top:345.56px"></div>
<svg style="left:507.30px;top:345.06px" width="9.20" height="9.20" viewBox="0 0 24 24" ><path d="M2.500 6 C2.500 4.800 3.300 4 4.500 4 H9 L11.500 6.800 H19.500 C20.700 6.800 21.500 7.600 21.500 8.800 V18 C21.500 19.200 20.700 20 19.500 20 H4.500 C3.300 20 2.500 19.200 2.500 18 Z" stroke="#4a5868" fill="none" stroke-width="2" stroke-linejoin="round"/></svg>
<div class="t" style="left:520.00px;top:345.89px;font-size:8.51px;color:#5f8f92;-webkit-text-stroke:0.13px #5f8f92;transform:scaleX(0.8650);transform-origin:0 50%;">SOP <span style="font-size:.66em;letter-spacing:0">…</span></div>
<div class="t" style="left:520.00px;top:358.89px;font-size:8.51px;color:#59636d;width:41.98px;overflow:hidden;-webkit-text-stroke:0.13px #59636d;transform:scaleX(0.9432);transform-origin:0 50%;">4 Documen</div>
<svg style="left:928.40px;top:344.06px" width="10.60" height="10.60" viewBox="0 0 24 24" ><rect x="2.500" y="11" width="14" height="9.500" rx="2.200" stroke="#8d9299" fill="none" stroke-width="2"/><path d="M13 11 V7.500 C13 2.500 20.500 2.500 20.500 7.500 V9" stroke="#8d9299" fill="none" stroke-width="2" stroke-linecap="round"/><path d="M8 15.700 H11" stroke="#8d9299" stroke-width="2" stroke-linecap="round"/></svg>
<svg style="left:947.60px;top:344.76px" width="9.40" height="9.40" viewBox="0 0 24 24" ><path d="M6 6.500 L7 21 H17 L18 6.500 Z" stroke="#16283a" fill="none" stroke-width="2.300" stroke-linejoin="round"/><path d="M4 6.500 H20 M9 6 C9 2 15 2 15 6" stroke="#16283a" fill="none" stroke-width="2.300" stroke-linecap="round"/></svg>
<div class="sep" style="top:372.38px;width:570px"></div>
<div class="cb" style="left:423px;top:380.28px"></div>
<svg style="left:507.30px;top:379.78px" width="9.20" height="9.20" viewBox="0 0 24 24" ><path d="M2.500 6 C2.500 4.800 3.300 4 4.500 4 H9 L11.500 6.800 H19.500 C20.700 6.800 21.500 7.600 21.500 8.800 V18 C21.500 19.200 20.700 20 19.500 20 H4.500 C3.300 20 2.500 19.200 2.500 18 Z" stroke="#4a5868" fill="none" stroke-width="2" stroke-linejoin="round"/></svg>
<div class="t" style="left:520.00px;top:380.61px;font-size:8.51px;color:#5f8f92;-webkit-text-stroke:0.13px #5f8f92;transform:scaleX(0.9199);transform-origin:0 50%;">Stand<span style="font-size:.66em;letter-spacing:0">…</span></div>
<div class="t" style="left:520.00px;top:393.61px;font-size:8.51px;color:#59636d;width:41.98px;overflow:hidden;-webkit-text-stroke:0.13px #59636d;transform:scaleX(0.9432);transform-origin:0 50%;">1 Documen</div>
<svg style="left:928.40px;top:378.78px" width="10.60" height="10.60" viewBox="0 0 24 24" ><rect x="2.500" y="11" width="14" height="9.500" rx="2.200" stroke="#8d9299" fill="none" stroke-width="2"/><path d="M13 11 V7.500 C13 2.500 20.500 2.500 20.500 7.500 V9" stroke="#8d9299" fill="none" stroke-width="2" stroke-linecap="round"/><path d="M8 15.700 H11" stroke="#8d9299" stroke-width="2" stroke-linecap="round"/></svg>
<svg style="left:947.60px;top:379.48px" width="9.40" height="9.40" viewBox="0 0 24 24" ><path d="M6 6.500 L7 21 H17 L18 6.500 Z" stroke="#16283a" fill="none" stroke-width="2.300" stroke-linejoin="round"/><path d="M4 6.500 H20 M9 6 C9 2 15 2 15 6" stroke="#16283a" fill="none" stroke-width="2.300" stroke-linecap="round"/></svg>
<div class="sep" style="top:407.10px;width:570px"></div>
<div class="cb" style="left:423px;top:415.00px"></div>
<svg style="left:507.30px;top:414.50px" width="9.20" height="9.20" viewBox="0 0 24 24" ><path d="M2.500 6 C2.500 4.800 3.300 4 4.500 4 H9 L11.500 6.800 H19.500 C20.700 6.800 21.500 7.600 21.500 8.800 V18 C21.500 19.200 20.700 20 19.500 20 H4.500 C3.300 20 2.500 19.200 2.500 18 Z" stroke="#4a5868" fill="none" stroke-width="2" stroke-linejoin="round"/></svg>
<div class="t" style="left:520.00px;top:415.33px;font-size:8.51px;color:#5f8f92;-webkit-text-stroke:0.13px #5f8f92;transform:scaleX(0.9543);transform-origin:0 50%;">Temp<span style="font-size:.66em;letter-spacing:0">…</span></div>
<div class="t" style="left:520.00px;top:428.33px;font-size:8.51px;color:#59636d;width:41.98px;overflow:hidden;-webkit-text-stroke:0.13px #59636d;transform:scaleX(0.9432);transform-origin:0 50%;">0 Documen</div>
<svg style="left:928.40px;top:413.50px" width="10.60" height="10.60" viewBox="0 0 24 24" ><rect x="2.500" y="11" width="14" height="9.500" rx="2.200" stroke="#8d9299" fill="none" stroke-width="2"/><path d="M13 11 V7.500 C13 2.500 20.500 2.500 20.500 7.500 V9" stroke="#8d9299" fill="none" stroke-width="2" stroke-linecap="round"/><path d="M8 15.700 H11" stroke="#8d9299" stroke-width="2" stroke-linecap="round"/></svg>
<svg style="left:947.60px;top:414.20px" width="9.40" height="9.40" viewBox="0 0 24 24" ><path d="M6 6.500 L7 21 H17 L18 6.500 Z" stroke="#16283a" fill="none" stroke-width="2.300" stroke-linejoin="round"/><path d="M4 6.500 H20 M9 6 C9 2 15 2 15 6" stroke="#16283a" fill="none" stroke-width="2.300" stroke-linecap="round"/></svg>
<div class="sep" style="top:441.82px;width:570px"></div>
<div class="cb" style="left:423px;top:450.30px"></div>
<svg style="left:506.40px;top:449.30px" width="9.80" height="9.80" viewBox="0 0 24 24" ><path d="M4 2.500 H12 L17 7.500 V14 M4 2.500 V21.500 H8" stroke="#4a5868" fill="none" stroke-width="2" stroke-linejoin="round" stroke-linecap="round"/><path d="M10.500 20 H22" stroke="#4a5868" stroke-width="4" stroke-dasharray="2.800 1.200"/></svg>
<div class="t" style="left:520.00px;top:450.73px;font-size:8.51px;color:#5f8f92;-webkit-text-stroke:0.13px #5f8f92;transform:scaleX(0.9420);transform-origin:0 50%;">Cross<span style="font-size:.66em;letter-spacing:0">…</span></div>
<div class="t" style="left:568.70px;top:450.74px;font-size:7.88px;color:#16283a;-webkit-text-stroke:0.36px #16283a;transform:scaleX(0.9943);transform-origin:0 50%;">Sep 11, 2025 -</div>
<div class="t" style="left:628.80px;top:450.73px;font-size:8.51px;color:#5f8f92;max-width:54.15px;overflow:hidden;-webkit-text-stroke:0.13px #5f8f92;transform:scaleX(0.9658);transform-origin:0 50%;">anna atchoudr</div>
<div class="t" style="left:749.00px;top:450.73px;font-size:8.51px;color:#5f8f92;max-width:53.95px;overflow:hidden;-webkit-text-stroke:0.13px #5f8f92;transform:scaleX(0.9658);transform-origin:0 50%;">anna atchoudr</div>
<svg style="left:920.20px;top:449.90px" width="8.80" height="8.80" viewBox="0 0 24 24" ><path d="M12 3.500 V14 M7 9.500 L12 14.500 L17 9.500 M5 19.500 H19" stroke="#16283a" fill="none" stroke-width="2.300" stroke-linecap="round" stroke-linejoin="round"/></svg>
<svg style="left:937.70px;top:448.80px" width="10.60" height="10.60" viewBox="0 0 24 24" ><rect x="2.500" y="11" width="14" height="9.500" rx="2.200" stroke="#8d9299" fill="none" stroke-width="2"/><path d="M13 11 V7.500 C13 2.500 20.500 2.500 20.500 7.500 V9" stroke="#8d9299" fill="none" stroke-width="2" stroke-linecap="round"/><path d="M8 15.700 H11" stroke="#8d9299" stroke-width="2" stroke-linecap="round"/></svg>
<svg style="left:956.90px;top:449.60px" width="9.40" height="9.40" viewBox="0 0 24 24" ><path d="M6 6.500 L7 21 H17 L18 6.500 Z" stroke="#16283a" fill="none" stroke-width="2.300" stroke-linejoin="round"/><path d="M4 6.500 H20 M9 6 C9 2 15 2 15 6" stroke="#16283a" fill="none" stroke-width="2.300" stroke-linecap="round"/></svg>
<div class="sep" style="top:466.60px;width:570px"></div>
<div class="cb" style="left:423px;top:474.40px"></div>
<svg style="left:506.40px;top:473.40px" width="9.80" height="9.80" viewBox="0 0 24 24" ><path d="M4 2.500 H12 L17 7.500 V14 M4 2.500 V21.500 H8" stroke="#4a5868" fill="none" stroke-width="2" stroke-linejoin="round" stroke-linecap="round"/><path d="M10.500 20 H22" stroke="#4a5868" stroke-width="4" stroke-dasharray="2.800 1.200"/></svg>
<div class="t" style="left:520.00px;top:474.83px;font-size:8.51px;color:#5f8f92;-webkit-text-stroke:0.13px #5f8f92;transform:scaleX(0.9420);transform-origin:0 50%;">Cross<span style="font-size:.66em;letter-spacing:0">…</span></div>
<div class="t" style="left:568.70px;top:474.84px;font-size:7.88px;color:#16283a;-webkit-text-stroke:0.36px #16283a;transform:scaleX(0.9918);transform-origin:0 50%;">Mar 30, 2023 -</div>
<div class="t" style="left:749.00px;top:474.83px;font-size:8.51px;color:#5f8f92;max-width:53.95px;overflow:hidden;-webkit-text-stroke:0.13px #5f8f92;transform:scaleX(0.9658);transform-origin:0 50%;">Debaloke Roy.</div>
<svg style="left:920.20px;top:474.00px" width="8.80" height="8.80" viewBox="0 0 24 24" ><path d="M12 3.500 V14 M7 9.500 L12 14.500 L17 9.500 M5 19.500 H19" stroke="#16283a" fill="none" stroke-width="2.300" stroke-linecap="round" stroke-linejoin="round"/></svg>
<svg style="left:937.70px;top:472.90px" width="10.60" height="10.60" viewBox="0 0 24 24" ><rect x="2.500" y="11" width="14" height="9.500" rx="2.200" stroke="#8d9299" fill="none" stroke-width="2"/><path d="M13 11 V7.500 C13 2.500 20.500 2.500 20.500 7.500 V9" stroke="#8d9299" fill="none" stroke-width="2" stroke-linecap="round"/><path d="M8 15.700 H11" stroke="#8d9299" stroke-width="2" stroke-linecap="round"/></svg>
<svg style="left:956.90px;top:473.70px" width="9.40" height="9.40" viewBox="0 0 24 24" ><path d="M6 6.500 L7 21 H17 L18 6.500 Z" stroke="#16283a" fill="none" stroke-width="2.300" stroke-linejoin="round"/><path d="M4 6.500 H20 M9 6 C9 2 15 2 15 6" stroke="#16283a" fill="none" stroke-width="2.300" stroke-linecap="round"/></svg>
<div class="abs" style="left:408px;top:491.10px;width:570px;height:24.7px;background:#f5f6f7"></div>
<div class="sep" style="top:491.10px;width:570px"></div>
<div class="cb" style="left:423px;top:499.10px"></div>
<svg style="left:503.80px;top:498.20px" width="9.80" height="9.80" viewBox="0 0 24 24" ><rect x="7" y="0.500" width="11" height="23" fill="#3a72d4"/><rect x="7" y="8" width="11" height="8" fill="#2455b8"/><rect x="7" y="16" width="11" height="7.500" fill="#12307e"/><rect x="6.500" y="6.500" width="7" height="11.500" fill="#1b46a4"/><path d="M7.500 9.500 L8.800 15 L10 11 L11.200 15 L12.500 9.500" stroke="#fff" fill="none" stroke-width="1.300"/></svg>
<div class="t" style="left:513.20px;top:499.53px;font-size:8.51px;color:#5f8f92;-webkit-text-stroke:0.13px #5f8f92;transform:scaleX(0.8857);transform-origin:0 50%;">De<span style="font-size:.66em;letter-spacing:0">…</span></div>
<svg style="left:531.00px;top:498.20px" width="9.60" height="9.60" viewBox="0 0 24 24" ><path d="M11 4.500 H6 C4.500 4.500 3.500 5.500 3.500 7 V18 C3.500 19.500 4.500 20.500 6 20.500 H17 C18.500 20.500 19.500 19.500 19.500 18 V13" stroke="#16283a" fill="none" stroke-width="2.200" stroke-linecap="round"/><path d="M17.500 2.800 L21.200 6.500 L12.500 15.200 L8.300 15.800 L8.900 11.500 Z" stroke="#16283a" fill="none" stroke-width="2.200" stroke-linejoin="round"/></svg>
<svg style="left:545.20px;top:498.40px" width="9.40" height="9.40" viewBox="0 0 24 24" ><rect x="8" y="2.500" width="11.500" height="14.500" rx="3" stroke="#16283a" fill="none" stroke-width="2.200"/><path d="M4.500 8 V18.500 C4.500 20.300 5.700 21.500 7.500 21.500 H15" stroke="#16283a" fill="none" stroke-width="2.200" stroke-linecap="round"/></svg>
<div class="t" style="left:568.70px;top:499.54px;font-size:7.88px;color:#16283a;letter-spacing:0.031px;-webkit-text-stroke:0.36px #16283a;">Jun 20, 2023 -</div>
<div class="t" style="left:749.00px;top:499.53px;font-size:8.51px;color:#5f8f92;max-width:53.95px;overflow:hidden;-webkit-text-stroke:0.13px #5f8f92;transform:scaleX(0.9658);transform-origin:0 50%;">Mikalai Ramar</div>
<svg style="left:920.20px;top:498.70px" width="8.80" height="8.80" viewBox="0 0 24 24" ><path d="M12 3.500 V14 M7 9.500 L12 14.500 L17 9.500 M5 19.500 H19" stroke="#16283a" fill="none" stroke-width="2.300" stroke-linecap="round" stroke-linejoin="round"/></svg>
<svg style="left:937.70px;top:497.60px" width="10.60" height="10.60" viewBox="0 0 24 24" ><rect x="2.500" y="11" width="14" height="9.500" rx="2.200" stroke="#8d9299" fill="none" stroke-width="2"/><path d="M13 11 V7.500 C13 2.500 20.500 2.500 20.500 7.500 V9" stroke="#8d9299" fill="none" stroke-width="2" stroke-linecap="round"/><path d="M8 15.700 H11" stroke="#8d9299" stroke-width="2" stroke-linecap="round"/></svg>
<svg style="left:956.90px;top:498.40px" width="9.40" height="9.40" viewBox="0 0 24 24" ><path d="M6 6.500 L7 21 H17 L18 6.500 Z" stroke="#16283a" fill="none" stroke-width="2.300" stroke-linejoin="round"/><path d="M4 6.500 H20 M9 6 C9 2 15 2 15 6" stroke="#16283a" fill="none" stroke-width="2.300" stroke-linecap="round"/></svg>
<div class="sep" style="top:515.80px;width:570px"></div>
<div class="cb" style="left:423px;top:523.30px"></div>
<svg style="left:503.80px;top:522.40px" width="9.80" height="9.80" viewBox="0 0 24 24" ><rect x="7" y="0.500" width="11" height="23" fill="#3a72d4"/><rect x="7" y="8" width="11" height="8" fill="#2455b8"/><rect x="7" y="16" width="11" height="7.500" fill="#12307e"/><rect x="6.500" y="6.500" width="7" height="11.500" fill="#1b46a4"/><path d="M7.500 9.500 L8.800 15 L10 11 L11.200 15 L12.500 9.500" stroke="#fff" fill="none" stroke-width="1.300"/></svg>
<div class="t" style="left:514.60px;top:523.73px;font-size:8.51px;color:#5f8f92;-webkit-text-stroke:0.13px #5f8f92;transform:scaleX(0.8853);transform-origin:0 50%;">DevOp<span style="font-size:.66em;letter-spacing:0">…</span></div>
<div class="t" style="left:568.70px;top:523.74px;font-size:7.88px;color:#16283a;-webkit-text-stroke:0.36px #16283a;transform:scaleX(0.9943);transform-origin:0 50%;">Sep 11, 2025 -</div>
<div class="t" style="left:628.80px;top:523.73px;font-size:8.51px;color:#5f8f92;max-width:54.15px;overflow:hidden;-webkit-text-stroke:0.13px #5f8f92;transform:scaleX(0.9658);transform-origin:0 50%;">anna atchoudr</div>
<div class="t" style="left:749.00px;top:523.73px;font-size:8.51px;color:#5f8f92;max-width:53.95px;overflow:hidden;-webkit-text-stroke:0.13px #5f8f92;transform:scaleX(0.9658);transform-origin:0 50%;">anna atchoudr</div>
<svg style="left:920.20px;top:522.90px" width="8.80" height="8.80" viewBox="0 0 24 24" ><path d="M12 3.500 V14 M7 9.500 L12 14.500 L17 9.500 M5 19.500 H19" stroke="#16283a" fill="none" stroke-width="2.300" stroke-linecap="round" stroke-linejoin="round"/></svg>
<svg style="left:937.70px;top:521.80px" width="10.60" height="10.60" viewBox="0 0 24 24" ><rect x="2.500" y="11" width="14" height="9.500" rx="2.200" stroke="#8d9299" fill="none" stroke-width="2"/><path d="M13 11 V7.500 C13 2.500 20.500 2.500 20.500 7.500 V9" stroke="#8d9299" fill="none" stroke-width="2" stroke-linecap="round"/><path d="M8 15.700 H11" stroke="#8d9299" stroke-width="2" stroke-linecap="round"/></svg>
<svg style="left:956.90px;top:522.60px" width="9.40" height="9.40" viewBox="0 0 24 24" ><path d="M6 6.500 L7 21 H17 L18 6.500 Z" stroke="#16283a" fill="none" stroke-width="2.300" stroke-linejoin="round"/><path d="M4 6.500 H20 M9 6 C9 2 15 2 15 6" stroke="#16283a" fill="none" stroke-width="2.300" stroke-linecap="round"/></svg>
<div class="sep" style="top:539.50px;width:570px"></div>
<div class="cb" style="left:423px;top:547.10px"></div>
<svg style="left:507.10px;top:546.60px" width="9.40" height="9.40" viewBox="0 0 24 24" ><path d="M6 2.500 H14 L19 7.500 V21.500 H6 Z" stroke="#4a5868" fill="none" stroke-width="2" stroke-linejoin="round"/><path d="M9.500 12.500 H15.500 V17.500 H9.500 Z" stroke="#4a5868" fill="none" stroke-width="1.500"/></svg>
<div class="t" style="left:520.00px;top:547.53px;font-size:8.51px;color:#5f8f92;-webkit-text-stroke:0.13px #5f8f92;transform:scaleX(0.8891);transform-origin:0 50%;">DRM<span style="font-size:.66em;letter-spacing:0">…</span></div>
<div class="t" style="left:568.70px;top:547.54px;font-size:7.88px;color:#16283a;-webkit-text-stroke:0.36px #16283a;transform:scaleX(0.9943);transform-origin:0 50%;">Sep 11, 2025 -</div>
<div class="t" style="left:628.80px;top:547.53px;font-size:8.51px;color:#5f8f92;max-width:54.15px;overflow:hidden;-webkit-text-stroke:0.13px #5f8f92;transform:scaleX(0.9658);transform-origin:0 50%;">anna atchoudr</div>
<div class="t" style="left:749.00px;top:547.53px;font-size:8.51px;color:#5f8f92;max-width:53.95px;overflow:hidden;-webkit-text-stroke:0.13px #5f8f92;transform:scaleX(0.9658);transform-origin:0 50%;">anna atchoudr</div>
<svg style="left:919.50px;top:546.20px" width="9.60" height="9.60" viewBox="0 0 24 24" ><path d="M11 4.500 H6 C4.500 4.500 3.500 5.500 3.500 7 V18 C3.500 19.500 4.500 20.500 6 20.500 H17 C18.500 20.500 19.500 19.500 19.500 18 V13" stroke="#16283a" fill="none" stroke-width="2.200" stroke-linecap="round"/><path d="M17.500 2.800 L21.200 6.500 L12.500 15.200 L8.300 15.800 L8.900 11.500 Z" stroke="#16283a" fill="none" stroke-width="2.200" stroke-linejoin="round"/></svg>
<svg style="left:937.70px;top:545.60px" width="10.60" height="10.60" viewBox="0 0 24 24" ><rect x="2.500" y="11" width="14" height="9.500" rx="2.200" stroke="#8d9299" fill="none" stroke-width="2"/><path d="M13 11 V7.500 C13 2.500 20.500 2.500 20.500 7.500 V9" stroke="#8d9299" fill="none" stroke-width="2" stroke-linecap="round"/><path d="M8 15.700 H11" stroke="#8d9299" stroke-width="2" stroke-linecap="round"/></svg>
<svg style="left:956.90px;top:546.40px" width="9.40" height="9.40" viewBox="0 0 24 24" ><path d="M6 6.500 L7 21 H17 L18 6.500 Z" stroke="#16283a" fill="none" stroke-width="2.300" stroke-linejoin="round"/><path d="M4 6.500 H20 M9 6 C9 2 15 2 15 6" stroke="#16283a" fill="none" stroke-width="2.300" stroke-linecap="round"/></svg>
<div class="sep" style="top:562.80px;width:570px"></div>
<div class="cb" style="left:423px;top:570.40px"></div>
<svg style="left:507.10px;top:569.90px" width="9.40" height="9.40" viewBox="0 0 24 24" ><path d="M6 2.500 H14 L19 7.500 V21.500 H6 Z" stroke="#4a5868" fill="none" stroke-width="2" stroke-linejoin="round"/><path d="M9.500 12.500 H15.500 V17.500 H9.500 Z" stroke="#4a5868" fill="none" stroke-width="1.500"/></svg>
<div class="t" style="left:520.00px;top:570.83px;font-size:8.51px;color:#5f8f92;-webkit-text-stroke:0.13px #5f8f92;transform:scaleX(0.9046);transform-origin:0 50%;">New <span style="font-size:.66em;letter-spacing:0">…</span></div>
<div class="t" style="left:568.70px;top:570.84px;font-size:7.88px;color:#16283a;-webkit-text-stroke:0.36px #16283a;transform:scaleX(0.9943);transform-origin:0 50%;">Sep 11, 2025 -</div>
<div class="t" style="left:628.80px;top:570.83px;font-size:8.51px;color:#5f8f92;max-width:54.15px;overflow:hidden;-webkit-text-stroke:0.13px #5f8f92;transform:scaleX(0.9658);transform-origin:0 50%;">anna atchoudr</div>
<div class="t" style="left:749.00px;top:570.83px;font-size:8.51px;color:#5f8f92;max-width:53.95px;overflow:hidden;-webkit-text-stroke:0.13px #5f8f92;transform:scaleX(0.9658);transform-origin:0 50%;">anna atchoudr</div>
<svg style="left:919.50px;top:569.50px" width="9.60" height="9.60" viewBox="0 0 24 24" ><path d="M11 4.500 H6 C4.500 4.500 3.500 5.500 3.500 7 V18 C3.500 19.500 4.500 20.500 6 20.500 H17 C18.500 20.500 19.500 19.500 19.500 18 V13" stroke="#16283a" fill="none" stroke-width="2.200" stroke-linecap="round"/><path d="M17.500 2.800 L21.200 6.500 L12.500 15.200 L8.300 15.800 L8.900 11.500 Z" stroke="#16283a" fill="none" stroke-width="2.200" stroke-linejoin="round"/></svg>
<svg style="left:937.70px;top:568.90px" width="10.60" height="10.60" viewBox="0 0 24 24" ><rect x="2.500" y="11" width="14" height="9.500" rx="2.200" stroke="#8d9299" fill="none" stroke-width="2"/><path d="M13 11 V7.500 C13 2.500 20.500 2.500 20.500 7.500 V9" stroke="#8d9299" fill="none" stroke-width="2" stroke-linecap="round"/><path d="M8 15.700 H11" stroke="#8d9299" stroke-width="2" stroke-linecap="round"/></svg>
<svg style="left:956.90px;top:569.70px" width="9.40" height="9.40" viewBox="0 0 24 24" ><path d="M6 6.500 L7 21 H17 L18 6.500 Z" stroke="#16283a" fill="none" stroke-width="2.300" stroke-linejoin="round"/><path d="M4 6.500 H20 M9 6 C9 2 15 2 15 6" stroke="#16283a" fill="none" stroke-width="2.300" stroke-linecap="round"/></svg>
<div class="sep" style="top:586.10px;width:570px"></div>
<div class="cb" style="left:423px;top:593.70px"></div>
<svg style="left:507.10px;top:593.20px" width="9.40" height="9.40" viewBox="0 0 24 24" ><path d="M6 2.500 H14 L19 7.500 V21.500 H6 Z" stroke="#4a5868" fill="none" stroke-width="2" stroke-linejoin="round"/><path d="M9.500 12.500 H15.500 V17.500 H9.500 Z" stroke="#4a5868" fill="none" stroke-width="1.500"/></svg>
<div class="t" style="left:520.00px;top:594.13px;font-size:8.51px;color:#5f8f92;-webkit-text-stroke:0.13px #5f8f92;transform:scaleX(0.9046);transform-origin:0 50%;">New <span style="font-size:.66em;letter-spacing:0">…</span></div>
<div class="t" style="left:568.70px;top:594.14px;font-size:7.88px;color:#16283a;-webkit-text-stroke:0.36px #16283a;transform:scaleX(0.9943);transform-origin:0 50%;">Sep 11, 2025 -</div>
<div class="t" style="left:628.80px;top:594.13px;font-size:8.51px;color:#5f8f92;max-width:54.15px;overflow:hidden;-webkit-text-stroke:0.13px #5f8f92;transform:scaleX(0.9658);transform-origin:0 50%;">anna atchoudr</div>
<div class="t" style="left:749.00px;top:594.13px;font-size:8.51px;color:#5f8f92;max-width:53.95px;overflow:hidden;-webkit-text-stroke:0.13px #5f8f92;transform:scaleX(0.9658);transform-origin:0 50%;">anna atchoudr</div>
<svg style="left:919.50px;top:592.80px" width="9.60" height="9.60" viewBox="0 0 24 24" ><path d="M11 4.500 H6 C4.500 4.500 3.500 5.500 3.500 7 V18 C3.500 19.500 4.500 20.500 6 20.500 H17 C18.500 20.500 19.500 19.500 19.500 18 V13" stroke="#16283a" fill="none" stroke-width="2.200" stroke-linecap="round"/><path d="M17.500 2.800 L21.200 6.500 L12.500 15.200 L8.300 15.800 L8.900 11.500 Z" stroke="#16283a" fill="none" stroke-width="2.200" stroke-linejoin="round"/></svg>
<svg style="left:937.70px;top:592.20px" width="10.60" height="10.60" viewBox="0 0 24 24" ><rect x="2.500" y="11" width="14" height="9.500" rx="2.200" stroke="#8d9299" fill="none" stroke-width="2"/><path d="M13 11 V7.500 C13 2.500 20.500 2.500 20.500 7.500 V9" stroke="#8d9299" fill="none" stroke-width="2" stroke-linecap="round"/><path d="M8 15.700 H11" stroke="#8d9299" stroke-width="2" stroke-linecap="round"/></svg>
<svg style="left:956.90px;top:593.00px" width="9.40" height="9.40" viewBox="0 0 24 24" ><path d="M6 6.500 L7 21 H17 L18 6.500 Z" stroke="#16283a" fill="none" stroke-width="2.300" stroke-linejoin="round"/><path d="M4 6.500 H20 M9 6 C9 2 15 2 15 6" stroke="#16283a" fill="none" stroke-width="2.300" stroke-linecap="round"/></svg>
<div class="sep" style="top:609.40px;width:570px"></div>
<div class="cb" style="left:423px;top:617.00px"></div>
<svg style="left:507.10px;top:616.50px" width="9.40" height="9.40" viewBox="0 0 24 24" ><path d="M6 2.500 H14 L19 7.500 V21.500 H6 Z" stroke="#4a5868" fill="none" stroke-width="2" stroke-linejoin="round"/><path d="M9.500 12.500 H15.500 V17.500 H9.500 Z" stroke="#4a5868" fill="none" stroke-width="1.500"/></svg>
<div class="t" style="left:520.00px;top:617.43px;font-size:8.51px;color:#5f8f92;-webkit-text-stroke:0.13px #5f8f92;transform:scaleX(0.9046);transform-origin:0 50%;">New <span style="font-size:.66em;letter-spacing:0">…</span></div>
<div class="t" style="left:568.70px;top:617.44px;font-size:7.88px;color:#16283a;-webkit-text-stroke:0.36px #16283a;transform:scaleX(0.9670);transform-origin:0 50%;">May 13, 2024 -</div>
<div class="t" style="left:628.80px;top:617.43px;font-size:8.51px;color:#5f8f92;max-width:54.15px;overflow:hidden;-webkit-text-stroke:0.13px #5f8f92;transform:scaleX(0.9658);transform-origin:0 50%;">Prince Soi</div>
<div class="t" style="left:749.00px;top:617.43px;font-size:8.51px;color:#5f8f92;max-width:53.95px;overflow:hidden;-webkit-text-stroke:0.13px #5f8f92;transform:scaleX(0.9658);transform-origin:0 50%;">Omkar Shinde.</div>
<svg style="left:919.50px;top:616.10px" width="9.60" height="9.60" viewBox="0 0 24 24" ><path d="M11 4.500 H6 C4.500 4.500 3.500 5.500 3.500 7 V18 C3.500 19.500 4.500 20.500 6 20.500 H17 C18.500 20.500 19.500 19.500 19.500 18 V13" stroke="#16283a" fill="none" stroke-width="2.200" stroke-linecap="round"/><path d="M17.500 2.800 L21.200 6.500 L12.500 15.200 L8.300 15.800 L8.900 11.500 Z" stroke="#16283a" fill="none" stroke-width="2.200" stroke-linejoin="round"/></svg>
<svg style="left:937.70px;top:615.50px" width="10.60" height="10.60" viewBox="0 0 24 24" ><rect x="2.500" y="11" width="14" height="9.500" rx="2.200" stroke="#8d9299" fill="none" stroke-width="2"/><path d="M13 11 V7.500 C13 2.500 20.500 2.500 20.500 7.500 V9" stroke="#8d9299" fill="none" stroke-width="2" stroke-linecap="round"/><path d="M8 15.700 H11" stroke="#8d9299" stroke-width="2" stroke-linecap="round"/></svg>
<svg style="left:956.90px;top:616.30px" width="9.40" height="9.40" viewBox="0 0 24 24" ><path d="M6 6.500 L7 21 H17 L18 6.500 Z" stroke="#16283a" fill="none" stroke-width="2.300" stroke-linejoin="round"/><path d="M4 6.500 H20 M9 6 C9 2 15 2 15 6" stroke="#16283a" fill="none" stroke-width="2.300" stroke-linecap="round"/></svg>
<div class="sep" style="top:632.70px;width:570px"></div>
<div class="cb" style="left:423px;top:640.30px"></div>
<svg style="left:507.10px;top:639.80px" width="9.40" height="9.40" viewBox="0 0 24 24" ><path d="M6 2.500 H14 L19 7.500 V21.500 H6 Z" stroke="#4a5868" fill="none" stroke-width="2" stroke-linejoin="round"/><path d="M9.500 12.500 H15.500 V17.500 H9.500 Z" stroke="#4a5868" fill="none" stroke-width="1.500"/></svg>
<div class="t" style="left:520.00px;top:640.73px;font-size:8.51px;color:#5f8f92;-webkit-text-stroke:0.13px #5f8f92;transform:scaleX(0.8804);transform-origin:0 50%;">OS Te<span style="font-size:.66em;letter-spacing:0">…</span></div>
<div class="t" style="left:568.70px;top:640.74px;font-size:7.88px;color:#16283a;-webkit-text-stroke:0.36px #16283a;transform:scaleX(0.9831);transform-origin:0 50%;">Nov 20, 2024 -</div>
<div class="t" style="left:628.80px;top:640.73px;font-size:8.51px;color:#5f8f92;max-width:54.15px;overflow:hidden;-webkit-text-stroke:0.13px #5f8f92;transform:scaleX(0.9658);transform-origin:0 50%;">Aleksandr Laiv</div>
<div class="t" style="left:749.00px;top:640.73px;font-size:8.51px;color:#5f8f92;max-width:53.95px;overflow:hidden;-webkit-text-stroke:0.13px #5f8f92;transform:scaleX(0.9658);transform-origin:0 50%;">Aleksandr Laiv</div>
<svg style="left:919.50px;top:639.40px" width="9.60" height="9.60" viewBox="0 0 24 24" ><path d="M11 4.500 H6 C4.500 4.500 3.500 5.500 3.500 7 V18 C3.500 19.500 4.500 20.500 6 20.500 H17 C18.500 20.500 19.500 19.500 19.500 18 V13" stroke="#16283a" fill="none" stroke-width="2.200" stroke-linecap="round"/><path d="M17.500 2.800 L21.200 6.500 L12.500 15.200 L8.300 15.800 L8.900 11.500 Z" stroke="#16283a" fill="none" stroke-width="2.200" stroke-linejoin="round"/></svg>
<svg style="left:937.70px;top:638.80px" width="10.60" height="10.60" viewBox="0 0 24 24" ><rect x="2.500" y="11" width="14" height="9.500" rx="2.200" stroke="#8d9299" fill="none" stroke-width="2"/><path d="M13 11 V7.500 C13 2.500 20.500 2.500 20.500 7.500 V9" stroke="#8d9299" fill="none" stroke-width="2" stroke-linecap="round"/><path d="M8 15.700 H11" stroke="#8d9299" stroke-width="2" stroke-linecap="round"/></svg>
<svg style="left:956.90px;top:639.60px" width="9.40" height="9.40" viewBox="0 0 24 24" ><path d="M6 6.500 L7 21 H17 L18 6.500 Z" stroke="#16283a" fill="none" stroke-width="2.300" stroke-linejoin="round"/><path d="M4 6.500 H20 M9 6 C9 2 15 2 15 6" stroke="#16283a" fill="none" stroke-width="2.300" stroke-linecap="round"/></svg>
<div class="sep" style="top:656.00px;width:570px"></div>
<div class="cb" style="left:423px;top:663.60px"></div>
<svg style="left:507.10px;top:663.10px" width="9.40" height="9.40" viewBox="0 0 24 24" ><path d="M6 2.500 H14 L19 7.500 V21.500 H6 Z" stroke="#4a5868" fill="none" stroke-width="2" stroke-linejoin="round"/><path d="M9.500 12.500 H15.500 V17.500 H9.500 Z" stroke="#4a5868" fill="none" stroke-width="1.500"/></svg>
<div class="t" style="left:520.00px;top:664.03px;font-size:8.51px;color:#5f8f92;-webkit-text-stroke:0.13px #5f8f92;transform:scaleX(0.8804);transform-origin:0 50%;">OS Te<span style="font-size:.66em;letter-spacing:0">…</span></div>
<div class="t" style="left:568.70px;top:664.04px;font-size:7.88px;color:#16283a;-webkit-text-stroke:0.36px #16283a;transform:scaleX(0.9943);transform-origin:0 50%;">Sep 11, 2025 -</div>
<div class="t" style="left:628.80px;top:664.03px;font-size:8.51px;color:#5f8f92;max-width:54.15px;overflow:hidden;-webkit-text-stroke:0.13px #5f8f92;transform:scaleX(0.9658);transform-origin:0 50%;">anna atchoudr</div>
<div class="t" style="left:749.00px;top:664.03px;font-size:8.51px;color:#5f8f92;max-width:53.95px;overflow:hidden;-webkit-text-stroke:0.13px #5f8f92;transform:scaleX(0.9658);transform-origin:0 50%;">anna atchoudr</div>
<svg style="left:919.50px;top:662.70px" width="9.60" height="9.60" viewBox="0 0 24 24" ><path d="M11 4.500 H6 C4.500 4.500 3.500 5.500 3.500 7 V18 C3.500 19.500 4.500 20.500 6 20.500 H17 C18.500 20.500 19.500 19.500 19.500 18 V13" stroke="#16283a" fill="none" stroke-width="2.200" stroke-linecap="round"/><path d="M17.500 2.800 L21.200 6.500 L12.500 15.200 L8.300 15.800 L8.900 11.500 Z" stroke="#16283a" fill="none" stroke-width="2.200" stroke-linejoin="round"/></svg>
<svg style="left:937.70px;top:662.10px" width="10.60" height="10.60" viewBox="0 0 24 24" ><rect x="2.500" y="11" width="14" height="9.500" rx="2.200" stroke="#8d9299" fill="none" stroke-width="2"/><path d="M13 11 V7.500 C13 2.500 20.500 2.500 20.500 7.500 V9" stroke="#8d9299" fill="none" stroke-width="2" stroke-linecap="round"/><path d="M8 15.700 H11" stroke="#8d9299" stroke-width="2" stroke-linecap="round"/></svg>
<svg style="left:956.90px;top:662.90px" width="9.40" height="9.40" viewBox="0 0 24 24" ><path d="M6 6.500 L7 21 H17 L18 6.500 Z" stroke="#16283a" fill="none" stroke-width="2.300" stroke-linejoin="round"/><path d="M4 6.500 H20 M9 6 C9 2 15 2 15 6" stroke="#16283a" fill="none" stroke-width="2.300" stroke-linecap="round"/></svg>
<div class="abs" style="left:399.3px;top:664.8px;width:578.7px;height:13.2px;background:#eeeeee"></div>
<div class="t" style="left:404.60px;top:669.67px;font-size:5.78px;color:#333;font-weight:700;transform:scaleX(0.9504);transform-origin:0 50%;">© 2025 ITG Software Inc. All rights reserved.</div>
<div class="t" style="left:524.80px;top:669.67px;font-size:5.78px;color:#6c8f91;-webkit-text-stroke:0.13px #6c8f91;transform:scaleX(0.9752);transform-origin:0 50%;">Privacy Policy</div>
<div class="t" style="left:565.00px;top:669.67px;font-size:5.78px;color:#6c8f91;letter-spacing:0.004px;-webkit-text-stroke:0.13px #6c8f91;">Terms of Service</div>
<div class="t" style="left:613.20px;top:669.67px;font-size:5.78px;color:#6c8f91;-webkit-text-stroke:0.13px #6c8f91;transform:scaleX(0.9704);transform-origin:0 50%;">Knowledge Base</div>
<div class="t" style="left:660.30px;top:669.67px;font-size:5.78px;color:#6c8f91;-webkit-text-stroke:0.13px #6c8f91;transform:scaleX(0.9702);transform-origin:0 50%;">Release Notes</div>
<div class="t" style="left:702.40px;top:669.67px;font-size:5.78px;color:#6c8f91;-webkit-text-stroke:0.13px #6c8f91;transform:scaleX(0.9780);transform-origin:0 50%;">Status</div>
<div class="t" style="left:723.60px;top:669.67px;font-size:5.78px;color:#333;font-weight:700;letter-spacing:0.014px;">V1.118.97 - 2025-11-06</div>
<div class="abs" style="left:914px;top:660.4px;width:46.2px;height:17.6px;background:#6fb782;border-radius:1px"></div>
<div class="t" style="left:922.60px;top:665.23px;font-size:8.51px;color:#fff;-webkit-text-stroke:0.13px #fff;transform:scaleX(0.9671);transform-origin:0 50%;">Support</div>
<div class="abs" style="left:978px;top:76px;width:11px;height:602px;background:#fafafa;border-left:1px solid #efefef"></div>
<div class="abs" style="left:980.8px;top:78.6px;width:5.2px;height:471px;border-radius:2.6px;background:#bcbcbc"></div>
</div></div>
<div id="annot" style="position:absolute;left:0;top:0;width:1440px;height:815px">
<svg style="left:0;top:0;z-index:5" width="1440" height="815" viewBox="0 0 1440 815"><rect x="471.2" y="483.7" width="167.6" height="167.2" fill="none" stroke="#7dd3f1" stroke-width="2.3"/><circle cx="594.6" cy="610.3" r="28.6" fill="#e87b69" fill-opacity=".38" stroke="#e87b69" stroke-opacity=".8" stroke-width="1"/><rect x="680.2" y="398" width="71.6" height="71.4" fill="none" stroke="#ea8878" stroke-width="1"/><circle cx="716" cy="433.7" r="35.6" fill="none" stroke="#ea8878" stroke-width="1"/><circle cx="720" cy="346.3" r="58" fill="#e87b69"/><path d="M929.5 536.4 L783 443.5" stroke="#071a2b" stroke-width="5" stroke-linecap="round" fill="none"/><path d="M767.4 431.2 L799.2 433.8 L780.2 458.8 Z" fill="#071a2b" stroke="#071a2b" stroke-width="1" stroke-linejoin="round"/><path d="M634.15 274.29 L580.30 377.74 L589.00 382.26 L642.85 278.81 Z" fill="none" stroke="#5493f6" stroke-width="1.15"/><path d="M636.19 280.99 L586.96 375.56" stroke="#e87b69" stroke-width="1.5" fill="none"/><rect x="635.92" y="274.50" width="4.8" height="4.8" rx=".8" fill="#2463ea" transform="rotate(117.5 638.32 276.90)"/><rect x="582.43" y="377.25" width="4.8" height="4.8" rx=".8" fill="#2463ea" transform="rotate(117.5 584.83 379.65)"/><path d="M616.2 330.7 L626.2 335.9" stroke="#5493f6" stroke-width="1.15" fill="none"/></svg>
<div class="t" style="left:763.60px;top:276.32px;font-size:21.8px;color:#0a1a2c;z-index:6;-webkit-text-stroke:0.2px #0a1a2c;transform:scaleX(0.8953);transform-origin:0 50%;">Text</div>
<div class="abs" style="left:608.6px;top:335.5px;width:61.6px;height:30.7px;border-radius:3.5px;background:#071a2b;z-index:6"></div>
<svg style="left:0;top:0;z-index:7" width="1440" height="815" viewBox="0 0 1440 815"><rect x="625.6" y="344.1" width="8.3" height="9.7" rx="2.3" stroke="#fff" fill="none" stroke-width="1.25" stroke-linecap="round" stroke-linejoin="round"/><path d="M625.4 347.6 C623.3 347.6 622.4 348.6 622.4 350.2 V354.4 C622.4 356.2 623.4 357.1 625.1 357.1 H627.9 C629.6 357.1 630.5 356.2 630.5 354.6" stroke="#fff" fill="none" stroke-width="1.25" stroke-linecap="round" stroke-linejoin="round"/><path d="M646.9 346.8 L648 355.6 C648.1 356.6 648.6 357 649.5 357 H652.8 C653.700 357 654.200 356.6 654.300 355.6 L655.4 346.8" stroke="#fff" fill="none" stroke-width="1.25" stroke-linecap="round" stroke-linejoin="round"/><path d="M645.5 346.6 H656.8 M649.300 346.4 C649.300 343.9 653 343.9 653 346.4" stroke="#fff" fill="none" stroke-width="1.25" stroke-linecap="round" stroke-linejoin="round"/></svg>
</div>
<div class="bar" style="left:595.6px;top:709.2px;width:264.4px;height:40px"></div>
<svg style="left:0;top:0" width="1440" height="815" viewBox="0 0 1440 815"><circle cx="615.4" cy="729" r="6.700" fill="none" stroke="#0b1b33" stroke-width="1.700"/><circle cx="638.5" cy="729" r="6.700" fill="none" stroke="#e8604c" stroke-width="1.700"/><circle cx="661.6" cy="729" r="6.700" fill="none" stroke="#a9a9ff" stroke-width="1.700"/><circle cx="684.7" cy="729" r="6.700" fill="none" stroke="#5ec9f1" stroke-width="1.700"/><circle cx="707.8" cy="729" r="6.700" fill="none" stroke="#7ad473" stroke-width="1.700"/><circle cx="730.9" cy="729" r="6.700" fill="none" stroke="#f8c243" stroke-width="1.700"/><circle cx="754.0" cy="729" r="6.700" fill="none" stroke="#f2a3ea" stroke-width="1.700"/><path d="M774.2 717.5 V740.2" stroke="#e4e4e4" stroke-width="1"/><circle cx="793.8" cy="729" r="7.1" fill="none" stroke="#0a0a0a" stroke-width="1.0"/><circle cx="816.9" cy="729" r="6.7" fill="none" stroke="#0a0a0a" stroke-width="1.9"/><circle cx="840.2" cy="729" r="6.2" fill="none" stroke="#0a0a0a" stroke-width="3.0"/></svg>
<div class="bar" style="left:662.3px;top:757.7px;width:131.4px;height:39px"></div>
<div class="abs" style="left:739.5px;top:766px;width:22.8px;height:22.4px;border-radius:3px;background:#e6e6e6"></div>
<svg style="left:0;top:0" width="1440" height="815" viewBox="0 0 1440 815"><path d="M676.400 772 H686.600 M676.400 772 V773.800 M686.600 772 V773.800 M681.500 772 V782 M679.600 782 H683.400" stroke="#111" fill="none" stroke-width="1.400" stroke-linecap="round" stroke-linejoin="round"/><rect x="699.4" y="771.9" width="10.200" height="10.200" rx="1" stroke="#111" fill="none" stroke-width="1.400" stroke-linecap="round" stroke-linejoin="round"/><circle cx="727.600" cy="777" r="5.900" stroke="#111" fill="none" stroke-width="1.400" stroke-linecap="round" stroke-linejoin="round"/><path d="M747.700 782.300 L753.800 771.500" stroke="#111" fill="none" stroke-width="1.400" stroke-linecap="round" stroke-linejoin="round"/><path d="M768.200 777 H779.200 M774.400 772 L779.400 777 L774.400 782" stroke="#111" fill="none" stroke-width="1.400" stroke-linecap="round" stroke-linejoin="round"/></svg>
<div class="bar" style="left:1196.400px;top:685.4px;width:40px;height:121.400px"></div>
<div class="abs" style="left:1205px;top:694.4px;width:23px;height:22.600px;border-radius:3px;background:#e6e6e6"></div>
<svg style="left:0;top:0" width="1440" height="815" viewBox="0 0 1440 815"><path d="M1217.300 699.300 L1219.800 703.800 H1214.800 Z" stroke="#111" fill="none" stroke-width="1.500" stroke-linecap="round" stroke-linejoin="round"/><circle cx="1213.200" cy="708.700" r="2.600" stroke="#111" fill="none" stroke-width="1.500" stroke-linecap="round" stroke-linejoin="round"/><rect x="1217.600" y="706.200" width="5" height="5" rx=".6" stroke="#111" fill="none" stroke-width="1.500" stroke-linecap="round" stroke-linejoin="round"/><path d="M1209.800 732.300 C1212.800 727.300 1220.200 727.300 1223.200 732.300 C1220.200 737.300 1212.800 737.300 1209.800 732.300 Z" stroke="#111" fill="none" stroke-width="1.500" stroke-linecap="round" stroke-linejoin="round"/><circle cx="1216.500" cy="732.300" r="2.300" stroke="#111" fill="none" stroke-width="1.500" stroke-linecap="round" stroke-linejoin="round"/><path d="M1209.300 726.300 L1224 738.600" stroke="#111" fill="none" stroke-width="1.500" stroke-linecap="round" stroke-linejoin="round"/><circle cx="1215.200" cy="758.200" r="4.600" stroke="#111" fill="none" stroke-width="1.500" stroke-linecap="round" stroke-linejoin="round"/><path d="M1218.700 761.700 L1222.800 765.700 M1213 758.200 H1217.400 M1215.200 756 V760.400" stroke="#111" fill="none" stroke-width="1.500" stroke-linecap="round" stroke-linejoin="round"/><circle cx="1215.200" cy="785.100" r="4.600" stroke="#111" fill="none" stroke-width="1.500" stroke-linecap="round" stroke-linejoin="round"/><path d="M1218.700 788.600 L1222.800 792.600 M1213 785.100 H1217.400" stroke="#111" fill="none" stroke-width="1.500" stroke-linecap="round" stroke-linejoin="round"/></svg>
<div class="abs" id="botfade"></div>
</body>
</html>
